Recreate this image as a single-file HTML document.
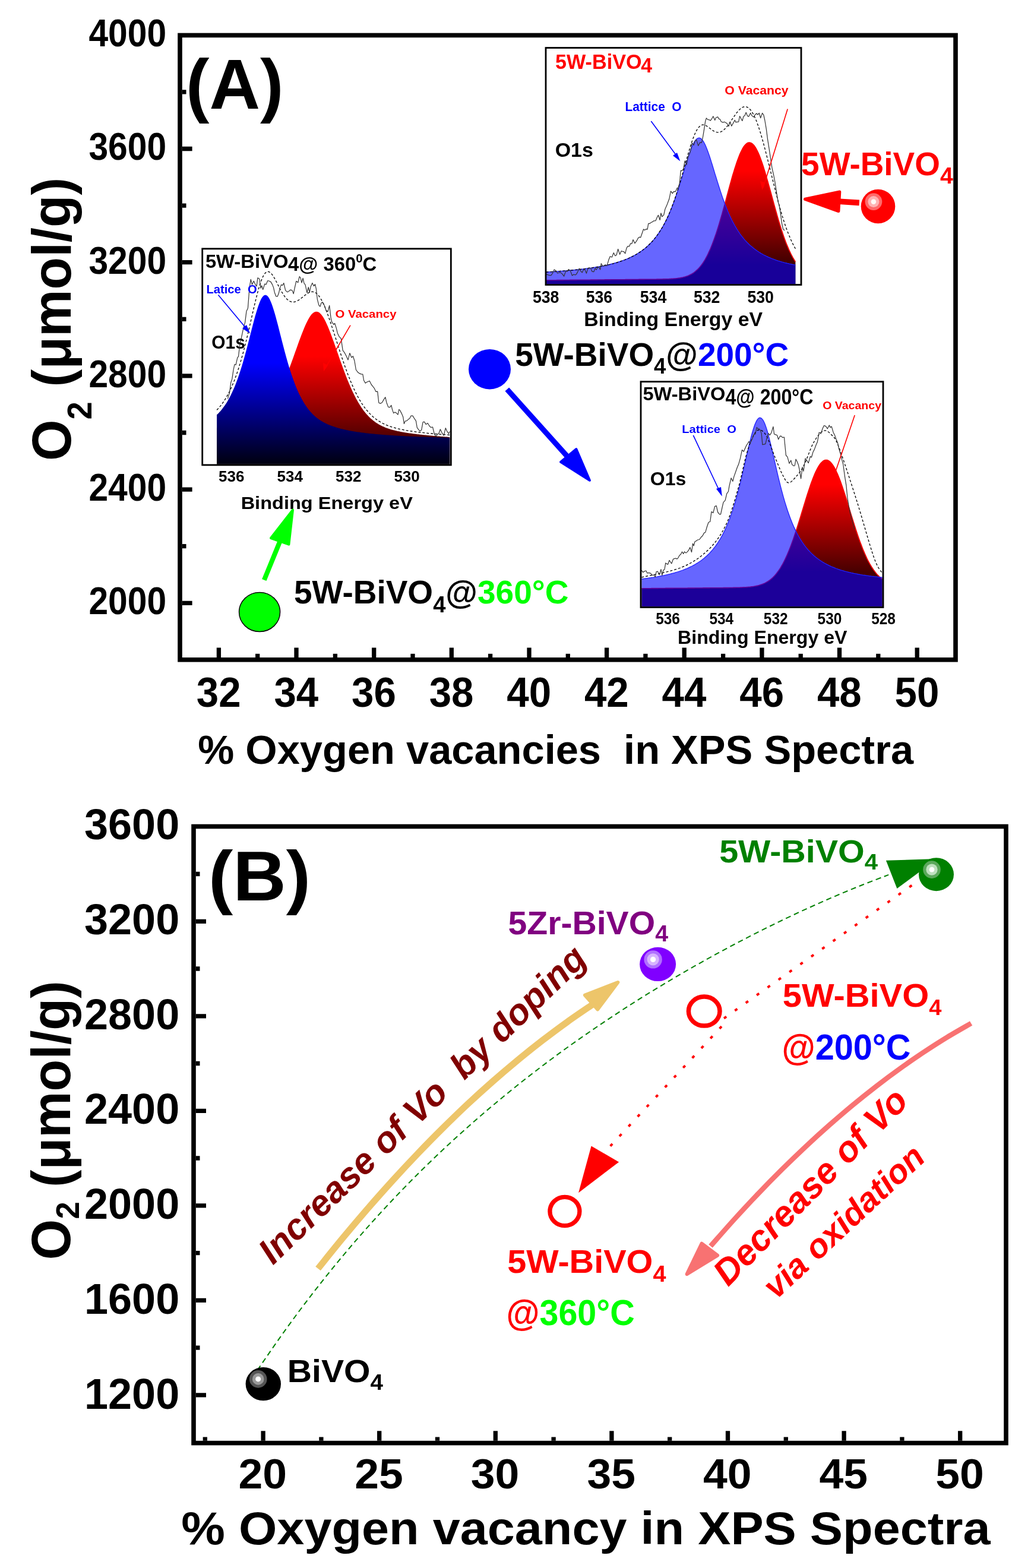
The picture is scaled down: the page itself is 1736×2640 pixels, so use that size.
<!DOCTYPE html>
<html><head><meta charset="utf-8"><title>O2 evolution vs oxygen vacancies (XPS)</title>
<style>html,body{margin:0;padding:0;background:#fff;}svg{display:block;}</style></head>
<body><svg width="1736" height="2640" viewBox="0 0 1736 2640">
<rect width="1736" height="2640" fill="#fff"/>
<defs>
<linearGradient id="g1b" gradientUnits="userSpaceOnUse" x1="0" y1="611" x2="0" y2="792"><stop offset="0" stop-color="#0000ff"/><stop offset="1" stop-color="#000000"/></linearGradient>
<linearGradient id="g1r" gradientUnits="userSpaceOnUse" x1="0" y1="600" x2="0" y2="800"><stop offset="0" stop-color="#ff0000"/><stop offset="1" stop-color="#000000"/></linearGradient>
<linearGradient id="g2r" gradientUnits="userSpaceOnUse" x1="0" y1="288" x2="0" y2="447"><stop offset="0" stop-color="#ff0000"/><stop offset="1" stop-color="#3c0000"/></linearGradient>
<linearGradient id="g3r" gradientUnits="userSpaceOnUse" x1="0" y1="816" x2="0" y2="964"><stop offset="0" stop-color="#ff0000"/><stop offset="1" stop-color="#460000"/></linearGradient>
</defs>
<text transform="translate(356.28,587.19) scale(1.0308,1.0903)" font-size="29.00" fill="#000" text-anchor="start" font-family="Liberation Sans, Arial, Helvetica, sans-serif" font-weight="bold" >O1s</text>
<path d="M365.1,781.5 L365.1,720.6 L366.6,720.5 L368.1,720.4 L369.6,720.3 L371.1,720.2 L372.6,720.1 L374.1,720.0 L375.6,719.8 L377.1,719.7 L378.6,719.6 L380.1,719.4 L381.6,719.3 L383.1,719.2 L384.6,719.0 L386.1,718.8 L387.6,718.7 L389.1,718.5 L390.6,718.3 L392.1,718.1 L393.7,717.9 L395.2,717.7 L396.7,717.4 L398.2,717.2 L399.7,716.9 L401.2,716.7 L402.7,716.4 L404.2,716.1 L405.7,715.8 L407.2,715.4 L408.7,715.1 L410.2,714.7 L411.7,714.3 L413.2,713.9 L414.7,713.4 L416.2,712.9 L417.7,712.4 L419.2,711.9 L420.7,711.3 L422.2,710.7 L423.7,710.1 L425.2,709.4 L426.7,708.7 L428.2,707.9 L429.7,707.1 L431.2,706.3 L432.7,705.4 L434.2,704.4 L435.7,703.4 L437.2,702.3 L438.7,701.2 L440.2,700.0 L441.7,698.8 L443.2,697.4 L444.7,696.0 L446.2,694.6 L447.7,693.0 L449.3,691.4 L450.8,689.7 L452.3,687.9 L453.8,686.0 L455.3,684.1 L456.8,682.0 L458.3,679.9 L459.8,677.6 L461.3,675.3 L462.8,672.9 L464.3,670.3 L465.8,667.7 L467.3,665.0 L468.8,662.2 L470.3,659.2 L471.8,656.2 L473.3,653.1 L474.8,649.9 L476.3,646.6 L477.8,643.1 L479.3,639.6 L480.8,636.1 L482.3,632.4 L483.8,628.6 L485.3,624.8 L486.8,620.9 L488.3,616.9 L489.8,612.9 L491.3,608.8 L492.8,604.7 L494.3,600.5 L495.8,596.3 L497.3,592.1 L498.8,587.9 L500.3,583.7 L501.8,579.5 L503.3,575.3 L504.8,571.2 L506.4,567.1 L507.9,563.1 L509.4,559.2 L510.9,555.5 L512.4,551.8 L513.9,548.3 L515.4,545.0 L516.9,541.9 L518.4,538.9 L519.9,536.2 L521.4,533.8 L522.9,531.6 L524.4,529.6 L525.9,528.0 L527.4,526.7 L528.9,525.7 L530.4,525.0 L531.9,524.7 L533.4,524.7 L534.9,525.0 L536.4,525.6 L537.9,526.6 L539.4,527.9 L540.9,529.5 L542.4,531.4 L543.9,533.6 L545.4,536.1 L546.9,538.8 L548.4,541.8 L549.9,544.9 L551.4,548.3 L552.9,551.8 L554.4,555.5 L555.9,559.3 L557.4,563.3 L558.9,567.3 L560.4,571.4 L562.0,575.6 L563.5,579.9 L565.0,584.2 L566.5,588.5 L568.0,592.8 L569.5,597.1 L571.0,601.4 L572.5,605.7 L574.0,609.9 L575.5,614.1 L577.0,618.2 L578.5,622.3 L580.0,626.3 L581.5,630.3 L583.0,634.2 L584.5,638.0 L586.0,641.7 L587.5,645.3 L589.0,648.8 L590.5,652.3 L592.0,655.6 L593.5,658.9 L595.0,662.0 L596.5,665.1 L598.0,668.0 L599.5,670.9 L601.0,673.6 L602.5,676.3 L604.0,678.8 L605.5,681.3 L607.0,683.6 L608.5,685.9 L610.0,688.1 L611.5,690.2 L613.0,692.2 L614.5,694.1 L616.0,695.9 L617.6,697.7 L619.1,699.3 L620.6,700.9 L622.1,702.4 L623.6,703.9 L625.1,705.2 L626.6,706.5 L628.1,707.8 L629.6,709.0 L631.1,710.1 L632.6,711.2 L634.1,712.2 L635.6,713.1 L637.1,714.0 L638.6,714.9 L640.1,715.7 L641.6,716.5 L643.1,717.3 L644.6,718.0 L646.1,718.6 L647.6,719.3 L649.1,719.9 L650.6,720.5 L652.1,721.0 L653.6,721.6 L655.1,722.1 L656.6,722.5 L658.1,723.0 L659.6,723.4 L661.1,723.8 L662.6,724.2 L664.1,724.6 L665.6,725.0 L667.1,725.3 L668.6,725.7 L670.1,726.0 L671.6,726.3 L673.1,726.6 L674.7,726.9 L676.2,727.2 L677.7,727.5 L679.2,727.8 L680.7,728.0 L682.2,728.3 L683.7,728.5 L685.2,728.7 L686.7,729.0 L688.2,729.2 L689.7,729.4 L691.2,729.6 L692.7,729.8 L694.2,730.0 L695.7,730.2 L697.2,730.4 L698.7,730.6 L700.2,730.8 L701.7,731.0 L703.2,731.2 L704.7,731.3 L706.2,731.5 L707.7,731.7 L709.2,731.8 L710.7,732.0 L712.2,732.2 L713.7,732.3 L715.2,732.5 L716.7,732.6 L718.2,732.8 L719.7,732.9 L721.2,733.0 L722.7,733.2 L724.2,733.3 L725.7,733.5 L727.2,733.6 L728.7,733.7 L730.3,733.9 L731.8,734.0 L733.3,734.1 L734.8,734.3 L736.3,734.4 L737.8,734.5 L739.3,734.6 L740.8,734.7 L742.3,734.9 L743.8,735.0 L745.3,735.1 L746.8,735.2 L748.3,735.3 L749.8,735.4 L751.3,735.5 L752.8,735.6 L754.3,735.8 L755.8,735.9 L757.3,736.0 L757.3,781.5 Z" fill="url(#g1r)" />
<path d="M365.1,781.5 L365.1,698.3 L366.6,696.9 L368.1,695.4 L369.6,693.8 L371.1,692.2 L372.6,690.4 L374.1,688.6 L375.6,686.6 L377.1,684.6 L378.6,682.5 L380.1,680.2 L381.6,677.9 L383.1,675.4 L384.6,672.8 L386.1,670.0 L387.6,667.2 L389.1,664.2 L390.6,661.0 L392.1,657.7 L393.7,654.3 L395.2,650.7 L396.7,646.9 L398.2,643.0 L399.7,639.0 L401.2,634.7 L402.7,630.3 L404.2,625.8 L405.7,621.1 L407.2,616.2 L408.7,611.2 L410.2,606.0 L411.7,600.7 L413.2,595.3 L414.7,589.7 L416.2,584.1 L417.7,578.3 L419.2,572.5 L420.7,566.6 L422.2,560.7 L423.7,554.8 L425.2,549.0 L426.7,543.2 L428.2,537.6 L429.7,532.1 L431.2,526.9 L432.7,521.9 L434.2,517.2 L435.7,512.9 L437.2,508.9 L438.7,505.5 L440.2,502.6 L441.7,500.2 L443.2,498.4 L444.7,497.2 L446.2,496.7 L447.7,496.8 L449.3,497.5 L450.8,498.8 L452.3,500.8 L453.8,503.3 L455.3,506.4 L456.8,510.0 L458.3,514.0 L459.8,518.4 L461.3,523.2 L462.8,528.3 L464.3,533.6 L465.8,539.2 L467.3,544.8 L468.8,550.6 L470.3,556.5 L471.8,562.4 L473.3,568.3 L474.8,574.2 L476.3,580.0 L477.8,585.8 L479.3,591.5 L480.8,597.0 L482.3,602.4 L483.8,607.7 L485.3,612.9 L486.8,617.9 L488.3,622.7 L489.8,627.4 L491.3,631.9 L492.8,636.3 L494.3,640.5 L495.8,644.5 L497.3,648.4 L498.8,652.2 L500.3,655.7 L501.8,659.2 L503.3,662.4 L504.8,665.6 L506.4,668.6 L507.9,671.4 L509.4,674.1 L510.9,676.7 L512.4,679.2 L513.9,681.6 L515.4,683.8 L516.9,685.9 L518.4,688.0 L519.9,689.9 L521.4,691.7 L522.9,693.5 L524.4,695.1 L525.9,696.7 L527.4,698.2 L528.9,699.6 L530.4,700.9 L531.9,702.2 L533.4,703.4 L534.9,704.6 L536.4,705.7 L537.9,706.7 L539.4,707.7 L540.9,708.7 L542.4,709.6 L543.9,710.5 L545.4,711.3 L546.9,712.1 L548.4,712.8 L549.9,713.6 L551.4,714.2 L552.9,714.9 L554.4,715.5 L555.9,716.1 L557.4,716.7 L558.9,717.3 L560.4,717.8 L562.0,718.3 L563.5,718.8 L565.0,719.3 L566.5,719.8 L568.0,720.2 L569.5,720.7 L571.0,721.1 L572.5,721.5 L574.0,721.9 L575.5,722.3 L577.0,722.6 L578.5,723.0 L580.0,723.3 L581.5,723.6 L583.0,724.0 L584.5,724.3 L586.0,724.6 L587.5,724.9 L589.0,725.2 L590.5,725.4 L592.0,725.7 L593.5,726.0 L595.0,726.2 L596.5,726.5 L598.0,726.7 L599.5,727.0 L601.0,727.2 L602.5,727.4 L604.0,727.6 L605.5,727.8 L607.0,728.1 L608.5,728.3 L610.0,728.5 L611.5,728.6 L613.0,728.8 L614.5,729.0 L616.0,729.2 L617.6,729.4 L619.1,729.5 L620.6,729.7 L622.1,729.9 L623.6,730.0 L625.1,730.2 L626.6,730.3 L628.1,730.5 L629.6,730.6 L631.1,730.8 L632.6,730.9 L634.1,731.1 L635.6,731.2 L637.1,731.3 L638.6,731.5 L640.1,731.6 L641.6,731.7 L643.1,731.8 L644.6,731.9 L646.1,732.1 L647.6,732.2 L649.1,732.3 L650.6,732.4 L652.1,732.5 L653.6,732.6 L655.1,732.7 L656.6,732.8 L658.1,732.9 L659.6,733.0 L661.1,733.1 L662.6,733.2 L664.1,733.3 L665.6,733.4 L667.1,733.5 L668.6,733.6 L670.1,733.7 L671.6,733.7 L673.1,733.8 L674.7,733.9 L676.2,734.0 L677.7,734.1 L679.2,734.1 L680.7,734.2 L682.2,734.3 L683.7,734.4 L685.2,734.4 L686.7,734.5 L688.2,734.6 L689.7,734.7 L691.2,734.7 L692.7,734.8 L694.2,734.9 L695.7,734.9 L697.2,735.0 L698.7,735.0 L700.2,735.1 L701.7,735.2 L703.2,735.2 L704.7,735.3 L706.2,735.4 L707.7,735.4 L709.2,735.5 L710.7,735.5 L712.2,735.6 L713.7,735.6 L715.2,735.7 L716.7,735.7 L718.2,735.8 L719.7,735.8 L721.2,735.9 L722.7,735.9 L724.2,736.0 L725.7,736.0 L727.2,736.1 L728.7,736.1 L730.3,736.2 L731.8,736.2 L733.3,736.3 L734.8,736.3 L736.3,736.4 L737.8,736.4 L739.3,736.5 L740.8,736.5 L742.3,736.6 L743.8,736.6 L745.3,736.6 L746.8,736.7 L748.3,736.7 L749.8,736.8 L751.3,736.8 L752.8,736.8 L754.3,736.9 L755.8,736.9 L757.3,737.0 L757.3,781.5 Z" fill="url(#g1b)" />
<path d="M365.1,690.3 L366.6,688.8 L368.1,687.1 L369.6,685.4 L371.1,683.6 L372.6,681.7 L374.1,679.7 L375.6,677.6 L377.1,675.4 L378.6,673.1 L380.1,670.7 L381.6,668.1 L383.1,665.4 L384.6,662.6 L386.1,659.7 L387.6,656.6 L389.1,653.4 L390.6,650.0 L392.1,646.4 L393.7,642.8 L395.2,638.9 L396.7,634.9 L398.2,630.7 L399.7,626.3 L401.2,621.8 L402.7,617.0 L404.2,612.1 L405.7,607.1 L407.2,601.8 L408.7,596.4 L410.2,590.8 L411.7,585.0 L413.2,579.1 L414.7,573.1 L416.2,566.9 L417.7,560.6 L419.2,554.2 L420.7,547.7 L422.2,541.2 L423.7,534.6 L425.2,528.0 L426.7,521.5 L428.2,515.0 L429.7,508.7 L431.2,502.6 L432.7,496.6 L434.2,490.9 L435.7,485.5 L437.2,480.5 L438.7,475.9 L440.2,471.7 L441.7,468.1 L443.2,464.9 L444.7,462.3 L446.2,460.2 L447.7,458.7 L449.3,457.7 L450.8,457.3 L452.3,457.5 L453.8,458.1 L455.3,459.1 L456.8,460.6 L458.3,462.4 L459.8,464.6 L461.3,467.0 L462.8,469.6 L464.3,472.4 L465.8,475.2 L467.3,478.2 L468.8,481.1 L470.3,484.0 L471.8,486.8 L473.3,489.6 L474.8,492.2 L476.3,494.6 L477.8,496.9 L479.3,499.1 L480.8,501.0 L482.3,502.7 L483.8,504.2 L485.3,505.4 L486.8,506.5 L488.3,507.3 L489.8,507.9 L491.3,508.3 L492.8,508.5 L494.3,508.5 L495.8,508.3 L497.3,507.9 L498.8,507.4 L500.3,506.7 L501.8,505.9 L503.3,505.0 L504.8,503.9 L506.4,502.8 L507.9,501.6 L509.4,500.4 L510.9,499.2 L512.4,498.0 L513.9,496.8 L515.4,495.7 L516.9,494.6 L518.4,493.6 L519.9,492.8 L521.4,492.1 L522.9,491.6 L524.4,491.3 L525.9,491.2 L527.4,491.3 L528.9,491.7 L530.4,492.3 L531.9,493.2 L533.4,494.4 L534.9,495.8 L536.4,497.5 L537.9,499.5 L539.4,501.8 L540.9,504.3 L542.4,507.1 L543.9,510.1 L545.4,513.3 L546.9,516.8 L548.4,520.4 L549.9,524.3 L551.4,528.3 L552.9,532.4 L554.4,536.7 L555.9,541.1 L557.4,545.6 L558.9,550.1 L560.4,554.7 L562.0,559.4 L563.5,564.1 L565.0,568.8 L566.5,573.5 L568.0,578.2 L569.5,582.9 L571.0,587.6 L572.5,592.2 L574.0,596.8 L575.5,601.3 L577.0,605.8 L578.5,610.2 L580.0,614.5 L581.5,618.7 L583.0,622.9 L584.5,627.0 L586.0,630.9 L587.5,634.8 L589.0,638.6 L590.5,642.2 L592.0,645.8 L593.5,649.3 L595.0,652.6 L596.5,655.9 L598.0,659.0 L599.5,662.1 L601.0,665.0 L602.5,667.9 L604.0,670.6 L605.5,673.2 L607.0,675.7 L608.5,678.2 L610.0,680.5 L611.5,682.7 L613.0,684.9 L614.5,686.9 L616.0,688.9 L617.6,690.7 L619.1,692.5 L620.6,694.2 L622.1,695.9 L623.6,697.4 L625.1,698.9 L626.6,700.3 L628.1,701.7 L629.6,703.0 L631.1,704.2 L632.6,705.3 L634.1,706.4 L635.6,707.5 L637.1,708.5 L638.6,709.4 L640.1,710.3 L641.6,711.2 L643.1,712.0 L644.6,712.8 L646.1,713.5 L647.6,714.3 L649.1,714.9 L650.6,715.6 L652.1,716.2 L653.6,716.8 L655.1,717.3 L656.6,717.9 L658.1,718.4 L659.6,718.9 L661.1,719.3 L662.6,719.8 L664.1,720.2 L665.6,720.6 L667.1,721.0 L668.6,721.4 L670.1,721.8 L671.6,722.1 L673.1,722.5 L674.7,722.8 L676.2,723.1 L677.7,723.4 L679.2,723.7 L680.7,724.0 L682.2,724.3 L683.7,724.6 L685.2,724.8 L686.7,725.1 L688.2,725.3 L689.7,725.6 L691.2,725.8 L692.7,726.0 L694.2,726.2 L695.7,726.5 L697.2,726.7 L698.7,726.9 L700.2,727.1 L701.7,727.3 L703.2,727.5 L704.7,727.7 L706.2,727.8 L707.7,728.0 L709.2,728.2 L710.7,728.4 L712.2,728.5 L713.7,728.7 L715.2,728.9 L716.7,729.0 L718.2,729.2 L719.7,729.3 L721.2,729.5 L722.7,729.6 L724.2,729.8 L725.7,729.9 L727.2,730.0 L728.7,730.2 L730.3,730.3 L731.8,730.4 L733.3,730.6 L734.8,730.7 L736.3,730.8 L737.8,730.9 L739.3,731.1 L740.8,731.2 L742.3,731.3 L743.8,731.4 L745.3,731.5 L746.8,731.6 L748.3,731.7 L749.8,731.8 L751.3,732.0 L752.8,732.1 L754.3,732.2 L755.8,732.3 L757.3,732.4" fill="none" stroke="#000" stroke-width="1.3" stroke-dasharray="4,3"/>
<path d="M383.4,671.4 L386.4,661.6 L388.8,643.8 L390.7,638.4 L393.1,622.5 L395.0,613.5 L397.1,614.3 L399.8,602.4 L401.5,600.1 L404.1,578.2 L406.7,567.4 L409.1,556.1 L410.9,548.8 L412.6,542.9 L415.0,523.9 L417.4,518.9 L420.0,485.0 L422.3,470.4 L424.4,479.1 L427.3,473.2 L430.0,479.1 L432.1,481.9 L433.9,467.8 L436.8,469.5 L439.0,485.2 L440.7,480.8 L442.7,487.6 L445.8,478.0 L448.0,478.9 L450.8,472.5 L452.9,473.0 L456.0,474.6 L458.7,479.4 L460.6,484.4 L462.3,492.2 L464.8,499.0 L467.1,499.2 L469.0,494.8 L471.6,484.4 L473.6,479.4 L475.7,480.5 L477.8,476.6 L480.7,488.9 L483.6,491.6 L486.2,490.7 L488.2,488.4 L490.3,488.2 L492.4,489.6 L494.2,494.6 L496.2,484.8 L498.8,473.3 L501.8,475.7 L504.2,465.6 L506.1,467.9 L508.0,476.2 L510.1,468.4 L512.0,476.8 L514.0,479.4 L517.0,492.8 L519.3,483.5 L521.2,492.2 L523.2,482.6 L525.9,476.4 L528.4,481.6 L530.5,478.6 L532.3,485.8 L534.3,503.8 L536.9,513.8 L539.0,516.1 L540.7,510.7 L542.7,508.6 L544.7,511.3 L546.9,516.0 L549.1,522.7 L552.0,524.5 L554.7,514.4 L557.2,536.0 L558.9,542.4 L561.9,546.4 L563.6,544.3 L566.2,552.1 L568.4,561.2 L571.5,567.4 L574.2,569.7 L577.2,589.8 L580.0,593.6 L583.0,599.3 L586.0,605.9 L588.9,594.6 L591.9,602.0 L594.4,599.7 L596.9,607.5 L599.4,622.5 L602.6,626.8 L605.5,628.9 L608.2,629.9 L610.8,630.2 L612.6,640.5 L615.3,645.1 L617.7,643.3 L619.7,642.5 L622.3,641.4 L625.3,647.5 L627.4,650.1 L630.0,653.3 L633.0,659.4 L635.7,659.1 L637.8,678.0 L640.4,679.5 L643.3,677.8 L646.3,672.6 L648.8,668.7 L650.9,677.7 L653.8,685.4 L656.7,685.6 L658.8,682.3 L660.7,690.1 L662.7,695.6 L665.0,694.0 L667.1,695.1 L670.0,698.1 L671.8,689.4 L673.5,690.9 L676.2,696.1 L678.7,701.9 L680.4,713.5 L682.3,709.0 L685.2,708.3 L687.2,706.3 L689.8,704.5 L692.1,700.0 L695.0,700.1 L698.0,705.2 L700.4,708.6 L702.3,719.9 L705.0,723.7 L707.0,725.8 L709.7,723.9 L712.1,710.8 L714.3,710.1 L717.2,714.4 L720.2,712.5 L722.9,717.0 L725.5,719.7 L728.5,719.0 L731.4,730.8 L734.2,734.9 L736.9,730.7 L738.8,730.0 L741.4,722.8 L744.1,728.6 L747.2,733.2 L750.3,720.7 L752.5,725.8 L755.5,730.2 L757.3,726.4" fill="none" stroke="#333" stroke-width="1.2" stroke-linejoin="round"/>
<rect x="340.7" y="418.8" width="418.6" height="364.1" fill="none" stroke="#000" stroke-width="2.8"/>
<text transform="translate(345.90,451.30) scale(1.0922,1.0424)" font-size="30.00" fill="#000" text-anchor="start" font-family="Liberation Sans, Arial, Helvetica, sans-serif" font-weight="bold" >5W-BiVO</text>
<text transform="translate(484.90,455.89) scale(1.0964,1.0772)" font-size="30.00" fill="#000" text-anchor="start" font-family="Liberation Sans, Arial, Helvetica, sans-serif" font-weight="bold" >4@ 360<tspan style="font-size:0.62em" dy="-12.7">0</tspan><tspan dy="12.7">C</tspan></text>
<text transform="translate(347.51,494.19) scale(1.0899,1.0494)" font-size="18.50" fill="#0000ff" text-anchor="start" font-family="Liberation Sans, Arial, Helvetica, sans-serif" font-weight="bold" >Latice&#160; O</text>
<text transform="translate(564.52,534.51) scale(1.0720,1.0125)" font-size="19.00" fill="#ff0000" text-anchor="start" font-family="Liberation Sans, Arial, Helvetica, sans-serif" font-weight="bold" >O Vacancy</text>
<line x1="367.4" y1="496.4" x2="418" y2="557" stroke="#0000ff" stroke-width="1.6"/>
<polygon points="421.4,561.7 408,553 415,547" fill="#0000ff"/>
<line x1="590" y1="547.6" x2="547" y2="621" stroke="#ff0000" stroke-width="1.6"/>
<polygon points="545.1,624.9 544,611 552,615" fill="#ff0000"/>
<text transform="translate(389.77,810.56) scale(1.0838,1.0816)" font-size="24.00" fill="#000" text-anchor="middle" font-family="Liberation Sans, Arial, Helvetica, sans-serif" font-weight="bold" >536</text>
<text transform="translate(488.27,810.56) scale(1.0838,1.0816)" font-size="24.00" fill="#000" text-anchor="middle" font-family="Liberation Sans, Arial, Helvetica, sans-serif" font-weight="bold" >534</text>
<text transform="translate(586.67,810.56) scale(1.0838,1.0816)" font-size="24.00" fill="#000" text-anchor="middle" font-family="Liberation Sans, Arial, Helvetica, sans-serif" font-weight="bold" >532</text>
<text transform="translate(685.07,810.56) scale(1.0838,1.0816)" font-size="24.00" fill="#000" text-anchor="middle" font-family="Liberation Sans, Arial, Helvetica, sans-serif" font-weight="bold" >530</text>
<text transform="translate(405.63,856.61) scale(1.0849,0.9889)" font-size="30.00" fill="#000" text-anchor="start" font-family="Liberation Sans, Arial, Helvetica, sans-serif" font-weight="bold" >Binding Energy eV</text>
<path d="M919.5,478.5 L919.5,471.8 L921.0,471.8 L922.5,471.8 L924.0,471.8 L925.5,471.7 L927.0,471.7 L928.5,471.7 L930.0,471.7 L931.5,471.7 L933.0,471.7 L934.6,471.7 L936.1,471.7 L937.6,471.6 L939.1,471.6 L940.6,471.6 L942.1,471.6 L943.6,471.6 L945.1,471.6 L946.6,471.6 L948.1,471.6 L949.6,471.5 L951.1,471.5 L952.6,471.5 L954.1,471.5 L955.6,471.5 L957.1,471.5 L958.6,471.5 L960.1,471.4 L961.6,471.4 L963.1,471.4 L964.7,471.4 L966.2,471.4 L967.7,471.4 L969.2,471.4 L970.7,471.4 L972.2,471.3 L973.7,471.3 L975.2,471.3 L976.7,471.3 L978.2,471.3 L979.7,471.3 L981.2,471.3 L982.7,471.3 L984.2,471.2 L985.7,471.2 L987.2,471.2 L988.7,471.2 L990.2,471.2 L991.7,471.2 L993.2,471.2 L994.8,471.1 L996.3,471.1 L997.8,471.1 L999.3,471.1 L1000.8,471.1 L1002.3,471.1 L1003.8,471.1 L1005.3,471.1 L1006.8,471.0 L1008.3,471.0 L1009.8,471.0 L1011.3,471.0 L1012.8,471.0 L1014.3,471.0 L1015.8,471.0 L1017.3,471.0 L1018.8,470.9 L1020.3,470.9 L1021.8,470.9 L1023.3,470.9 L1024.9,470.9 L1026.4,470.9 L1027.9,470.9 L1029.4,470.8 L1030.9,470.8 L1032.4,470.8 L1033.9,470.8 L1035.4,470.8 L1036.9,470.8 L1038.4,470.8 L1039.9,470.8 L1041.4,470.7 L1042.9,470.7 L1044.4,470.7 L1045.9,470.7 L1047.4,470.7 L1048.9,470.7 L1050.4,470.7 L1051.9,470.7 L1053.4,470.6 L1055.0,470.6 L1056.5,470.6 L1058.0,470.6 L1059.5,470.6 L1061.0,470.6 L1062.5,470.6 L1064.0,470.5 L1065.5,470.5 L1067.0,470.5 L1068.5,470.5 L1070.0,470.5 L1071.5,470.5 L1073.0,470.5 L1074.5,470.5 L1076.0,470.4 L1077.5,470.4 L1079.0,470.4 L1080.5,470.4 L1082.0,470.4 L1083.5,470.4 L1085.1,470.4 L1086.6,470.3 L1088.1,470.3 L1089.6,470.3 L1091.1,470.3 L1092.6,470.3 L1094.1,470.3 L1095.6,470.3 L1097.1,470.2 L1098.6,470.2 L1100.1,470.2 L1101.6,470.2 L1103.1,470.2 L1104.6,470.2 L1106.1,470.1 L1107.6,470.1 L1109.1,470.1 L1110.6,470.1 L1112.1,470.0 L1113.6,470.0 L1115.2,470.0 L1116.7,469.9 L1118.2,469.9 L1119.7,469.9 L1121.2,469.8 L1122.7,469.8 L1124.2,469.7 L1125.7,469.7 L1127.2,469.6 L1128.7,469.5 L1130.2,469.4 L1131.7,469.4 L1133.2,469.3 L1134.7,469.1 L1136.2,469.0 L1137.7,468.9 L1139.2,468.7 L1140.7,468.5 L1142.2,468.3 L1143.7,468.1 L1145.3,467.9 L1146.8,467.6 L1148.3,467.3 L1149.8,467.0 L1151.3,466.6 L1152.8,466.2 L1154.3,465.8 L1155.8,465.3 L1157.3,464.8 L1158.8,464.2 L1160.3,463.5 L1161.8,462.8 L1163.3,462.0 L1164.8,461.2 L1166.3,460.3 L1167.8,459.3 L1169.3,458.2 L1170.8,457.0 L1172.3,455.7 L1173.8,454.4 L1175.4,452.9 L1176.9,451.3 L1178.4,449.6 L1179.9,447.8 L1181.4,445.8 L1182.9,443.7 L1184.4,441.5 L1185.9,439.1 L1187.4,436.6 L1188.9,433.9 L1190.4,431.1 L1191.9,428.1 L1193.4,424.9 L1194.9,421.6 L1196.4,418.2 L1197.9,414.5 L1199.4,410.7 L1200.9,406.8 L1202.4,402.7 L1203.9,398.4 L1205.5,394.0 L1207.0,389.4 L1208.5,384.7 L1210.0,379.9 L1211.5,374.9 L1213.0,369.8 L1214.5,364.6 L1216.0,359.4 L1217.5,354.0 L1219.0,348.6 L1220.5,343.1 L1222.0,337.6 L1223.5,332.0 L1225.0,326.5 L1226.5,320.9 L1228.0,315.4 L1229.5,310.0 L1231.0,304.6 L1232.5,299.3 L1234.0,294.1 L1235.6,289.0 L1237.1,284.1 L1238.6,279.4 L1240.1,274.8 L1241.6,270.5 L1243.1,266.4 L1244.6,262.5 L1246.1,258.9 L1247.6,255.5 L1249.1,252.5 L1250.6,249.7 L1252.1,247.3 L1253.6,245.2 L1255.1,243.5 L1256.6,242.0 L1258.1,241.0 L1259.6,240.3 L1261.1,240.0 L1262.6,240.0 L1264.1,240.4 L1265.7,241.1 L1267.2,242.3 L1268.7,243.7 L1270.2,245.5 L1271.7,247.7 L1273.2,250.2 L1274.7,253.0 L1276.2,256.1 L1277.7,259.4 L1279.2,263.1 L1280.7,267.0 L1282.2,271.2 L1283.7,275.5 L1285.2,280.1 L1286.7,284.9 L1288.2,289.8 L1289.7,294.9 L1291.2,300.1 L1292.7,305.3 L1294.2,310.7 L1295.8,316.2 L1297.3,321.7 L1298.8,327.2 L1300.3,332.7 L1301.8,338.2 L1303.3,343.7 L1304.8,349.1 L1306.3,354.5 L1307.8,359.8 L1309.3,365.1 L1310.8,370.2 L1312.3,375.2 L1313.8,380.1 L1315.3,384.9 L1316.8,389.6 L1318.3,394.1 L1319.8,398.4 L1321.3,402.6 L1322.8,406.7 L1324.3,410.6 L1325.9,414.3 L1327.4,417.9 L1328.9,421.3 L1330.4,424.5 L1331.9,427.6 L1333.4,430.5 L1334.9,433.3 L1336.4,435.9 L1337.9,438.4 L1339.4,440.7 L1339.4,478.5 Z" fill="url(#g2r)" />
<path d="M919.5,471.8 L921.0,471.8 L922.5,471.8 L924.0,471.8 L925.5,471.7 L927.0,471.7 L928.5,471.7 L930.0,471.7 L931.5,471.7 L933.0,471.7 L934.6,471.7 L936.1,471.7 L937.6,471.6 L939.1,471.6 L940.6,471.6 L942.1,471.6 L943.6,471.6 L945.1,471.6 L946.6,471.6 L948.1,471.6 L949.6,471.5 L951.1,471.5 L952.6,471.5 L954.1,471.5 L955.6,471.5 L957.1,471.5 L958.6,471.5 L960.1,471.4 L961.6,471.4 L963.1,471.4 L964.7,471.4 L966.2,471.4 L967.7,471.4 L969.2,471.4 L970.7,471.4 L972.2,471.3 L973.7,471.3 L975.2,471.3 L976.7,471.3 L978.2,471.3 L979.7,471.3 L981.2,471.3 L982.7,471.3 L984.2,471.2 L985.7,471.2 L987.2,471.2 L988.7,471.2 L990.2,471.2 L991.7,471.2 L993.2,471.2 L994.8,471.1 L996.3,471.1 L997.8,471.1 L999.3,471.1 L1000.8,471.1 L1002.3,471.1 L1003.8,471.1 L1005.3,471.1 L1006.8,471.0 L1008.3,471.0 L1009.8,471.0 L1011.3,471.0 L1012.8,471.0 L1014.3,471.0 L1015.8,471.0 L1017.3,471.0 L1018.8,470.9 L1020.3,470.9 L1021.8,470.9 L1023.3,470.9 L1024.9,470.9 L1026.4,470.9 L1027.9,470.9 L1029.4,470.8 L1030.9,470.8 L1032.4,470.8 L1033.9,470.8 L1035.4,470.8 L1036.9,470.8 L1038.4,470.8 L1039.9,470.8 L1041.4,470.7 L1042.9,470.7 L1044.4,470.7 L1045.9,470.7 L1047.4,470.7 L1048.9,470.7 L1050.4,470.7 L1051.9,470.7 L1053.4,470.6 L1055.0,470.6 L1056.5,470.6 L1058.0,470.6 L1059.5,470.6 L1061.0,470.6 L1062.5,470.6 L1064.0,470.5 L1065.5,470.5 L1067.0,470.5 L1068.5,470.5 L1070.0,470.5 L1071.5,470.5 L1073.0,470.5 L1074.5,470.5 L1076.0,470.4 L1077.5,470.4 L1079.0,470.4 L1080.5,470.4 L1082.0,470.4 L1083.5,470.4 L1085.1,470.4 L1086.6,470.3 L1088.1,470.3 L1089.6,470.3 L1091.1,470.3 L1092.6,470.3 L1094.1,470.3 L1095.6,470.3 L1097.1,470.2 L1098.6,470.2 L1100.1,470.2 L1101.6,470.2 L1103.1,470.2 L1104.6,470.2 L1106.1,470.1 L1107.6,470.1 L1109.1,470.1 L1110.6,470.1 L1112.1,470.0 L1113.6,470.0 L1115.2,470.0 L1116.7,469.9 L1118.2,469.9 L1119.7,469.9 L1121.2,469.8 L1122.7,469.8 L1124.2,469.7 L1125.7,469.7 L1127.2,469.6 L1128.7,469.5 L1130.2,469.4 L1131.7,469.4 L1133.2,469.3 L1134.7,469.1 L1136.2,469.0 L1137.7,468.9 L1139.2,468.7 L1140.7,468.5 L1142.2,468.3 L1143.7,468.1 L1145.3,467.9 L1146.8,467.6 L1148.3,467.3 L1149.8,467.0 L1151.3,466.6 L1152.8,466.2 L1154.3,465.8 L1155.8,465.3 L1157.3,464.8 L1158.8,464.2 L1160.3,463.5 L1161.8,462.8 L1163.3,462.0 L1164.8,461.2 L1166.3,460.3 L1167.8,459.3 L1169.3,458.2 L1170.8,457.0 L1172.3,455.7 L1173.8,454.4 L1175.4,452.9 L1176.9,451.3 L1178.4,449.6 L1179.9,447.8 L1181.4,445.8 L1182.9,443.7 L1184.4,441.5 L1185.9,439.1 L1187.4,436.6 L1188.9,433.9 L1190.4,431.1 L1191.9,428.1 L1193.4,424.9 L1194.9,421.6 L1196.4,418.2 L1197.9,414.5 L1199.4,410.7 L1200.9,406.8 L1202.4,402.7 L1203.9,398.4 L1205.5,394.0 L1207.0,389.4 L1208.5,384.7 L1210.0,379.9 L1211.5,374.9 L1213.0,369.8 L1214.5,364.6 L1216.0,359.4 L1217.5,354.0 L1219.0,348.6 L1220.5,343.1 L1222.0,337.6 L1223.5,332.0 L1225.0,326.5 L1226.5,320.9 L1228.0,315.4 L1229.5,310.0 L1231.0,304.6 L1232.5,299.3 L1234.0,294.1 L1235.6,289.0 L1237.1,284.1 L1238.6,279.4 L1240.1,274.8 L1241.6,270.5 L1243.1,266.4 L1244.6,262.5 L1246.1,258.9 L1247.6,255.5 L1249.1,252.5 L1250.6,249.7 L1252.1,247.3 L1253.6,245.2 L1255.1,243.5 L1256.6,242.0 L1258.1,241.0 L1259.6,240.3 L1261.1,240.0 L1262.6,240.0 L1264.1,240.4 L1265.7,241.1 L1267.2,242.3 L1268.7,243.7 L1270.2,245.5 L1271.7,247.7 L1273.2,250.2 L1274.7,253.0 L1276.2,256.1 L1277.7,259.4 L1279.2,263.1 L1280.7,267.0 L1282.2,271.2 L1283.7,275.5 L1285.2,280.1 L1286.7,284.9 L1288.2,289.8 L1289.7,294.9 L1291.2,300.1 L1292.7,305.3 L1294.2,310.7 L1295.8,316.2 L1297.3,321.7 L1298.8,327.2 L1300.3,332.7 L1301.8,338.2 L1303.3,343.7 L1304.8,349.1 L1306.3,354.5 L1307.8,359.8 L1309.3,365.1 L1310.8,370.2 L1312.3,375.2 L1313.8,380.1 L1315.3,384.9 L1316.8,389.6 L1318.3,394.1 L1319.8,398.4 L1321.3,402.6 L1322.8,406.7 L1324.3,410.6 L1325.9,414.3 L1327.4,417.9 L1328.9,421.3 L1330.4,424.5 L1331.9,427.6 L1333.4,430.5 L1334.9,433.3 L1336.4,435.9 L1337.9,438.4 L1339.4,440.7" fill="none" stroke="#ff0000" stroke-width="1.6"/>
<path d="M919.5,478.5 L919.5,458.1 L921.0,458.0 L922.5,457.9 L924.0,457.8 L925.5,457.7 L927.0,457.6 L928.5,457.6 L930.0,457.5 L931.5,457.4 L933.0,457.3 L934.6,457.2 L936.1,457.1 L937.6,457.0 L939.1,456.8 L940.6,456.7 L942.1,456.6 L943.6,456.5 L945.1,456.4 L946.6,456.3 L948.1,456.2 L949.6,456.1 L951.1,455.9 L952.6,455.8 L954.1,455.7 L955.6,455.6 L957.1,455.4 L958.6,455.3 L960.1,455.2 L961.6,455.0 L963.1,454.9 L964.7,454.7 L966.2,454.6 L967.7,454.4 L969.2,454.3 L970.7,454.1 L972.2,454.0 L973.7,453.8 L975.2,453.7 L976.7,453.5 L978.2,453.3 L979.7,453.1 L981.2,453.0 L982.7,452.8 L984.2,452.6 L985.7,452.4 L987.2,452.2 L988.7,452.0 L990.2,451.8 L991.7,451.6 L993.2,451.4 L994.8,451.2 L996.3,451.0 L997.8,450.7 L999.3,450.5 L1000.8,450.3 L1002.3,450.0 L1003.8,449.8 L1005.3,449.5 L1006.8,449.3 L1008.3,449.0 L1009.8,448.7 L1011.3,448.5 L1012.8,448.2 L1014.3,447.9 L1015.8,447.6 L1017.3,447.3 L1018.8,447.0 L1020.3,446.6 L1021.8,446.3 L1023.3,446.0 L1024.9,445.6 L1026.4,445.3 L1027.9,444.9 L1029.4,444.5 L1030.9,444.1 L1032.4,443.8 L1033.9,443.3 L1035.4,442.9 L1036.9,442.5 L1038.4,442.1 L1039.9,441.6 L1041.4,441.1 L1042.9,440.7 L1044.4,440.2 L1045.9,439.7 L1047.4,439.1 L1048.9,438.6 L1050.4,438.0 L1051.9,437.5 L1053.4,436.9 L1055.0,436.3 L1056.5,435.6 L1058.0,435.0 L1059.5,434.3 L1061.0,433.6 L1062.5,432.9 L1064.0,432.2 L1065.5,431.4 L1067.0,430.7 L1068.5,429.9 L1070.0,429.0 L1071.5,428.2 L1073.0,427.3 L1074.5,426.3 L1076.0,425.4 L1077.5,424.4 L1079.0,423.4 L1080.5,422.3 L1082.0,421.2 L1083.5,420.1 L1085.1,418.9 L1086.6,417.7 L1088.1,416.4 L1089.6,415.1 L1091.1,413.7 L1092.6,412.3 L1094.1,410.8 L1095.6,409.3 L1097.1,407.7 L1098.6,406.1 L1100.1,404.3 L1101.6,402.6 L1103.1,400.7 L1104.6,398.8 L1106.1,396.8 L1107.6,394.7 L1109.1,392.6 L1110.6,390.3 L1112.1,388.0 L1113.6,385.5 L1115.2,383.0 L1116.7,380.4 L1118.2,377.7 L1119.7,374.8 L1121.2,371.9 L1122.7,368.8 L1124.2,365.6 L1125.7,362.4 L1127.2,358.9 L1128.7,355.4 L1130.2,351.7 L1131.7,347.9 L1133.2,344.0 L1134.7,340.0 L1136.2,335.8 L1137.7,331.5 L1139.2,327.1 L1140.7,322.5 L1142.2,317.9 L1143.7,313.2 L1145.3,308.4 L1146.8,303.5 L1148.3,298.5 L1149.8,293.5 L1151.3,288.5 L1152.8,283.5 L1154.3,278.6 L1155.8,273.7 L1157.3,268.9 L1158.8,264.3 L1160.3,259.8 L1161.8,255.5 L1163.3,251.5 L1164.8,247.7 L1166.3,244.3 L1167.8,241.3 L1169.3,238.6 L1170.8,236.4 L1172.3,234.6 L1173.8,233.3 L1175.4,232.5 L1176.9,232.2 L1178.4,232.4 L1179.9,233.1 L1181.4,234.4 L1182.9,236.1 L1184.4,238.2 L1185.9,240.8 L1187.4,243.8 L1188.9,247.2 L1190.4,250.9 L1191.9,254.9 L1193.4,259.1 L1194.9,263.5 L1196.4,268.2 L1197.9,272.9 L1199.4,277.8 L1200.9,282.7 L1202.4,287.7 L1203.9,292.7 L1205.5,297.6 L1207.0,302.6 L1208.5,307.4 L1210.0,312.3 L1211.5,317.0 L1213.0,321.6 L1214.5,326.1 L1216.0,330.6 L1217.5,334.9 L1219.0,339.0 L1220.5,343.1 L1222.0,347.0 L1223.5,350.8 L1225.0,354.5 L1226.5,358.0 L1228.0,361.4 L1229.5,364.7 L1231.0,367.9 L1232.5,371.0 L1234.0,373.9 L1235.6,376.7 L1237.1,379.5 L1238.6,382.1 L1240.1,384.6 L1241.6,387.0 L1243.1,389.4 L1244.6,391.6 L1246.1,393.8 L1247.6,395.8 L1249.1,397.8 L1250.6,399.7 L1252.1,401.6 L1253.6,403.4 L1255.1,405.1 L1256.6,406.7 L1258.1,408.3 L1259.6,409.8 L1261.1,411.3 L1262.6,412.7 L1264.1,414.0 L1265.7,415.3 L1267.2,416.6 L1268.7,417.8 L1270.2,419.0 L1271.7,420.1 L1273.2,421.2 L1274.7,422.3 L1276.2,423.3 L1277.7,424.2 L1279.2,425.2 L1280.7,426.1 L1282.2,427.0 L1283.7,427.8 L1285.2,428.7 L1286.7,429.5 L1288.2,430.2 L1289.7,431.0 L1291.2,431.7 L1292.7,432.4 L1294.2,433.1 L1295.8,433.7 L1297.3,434.4 L1298.8,435.0 L1300.3,435.6 L1301.8,436.1 L1303.3,436.7 L1304.8,437.2 L1306.3,437.8 L1307.8,438.3 L1309.3,438.8 L1310.8,439.3 L1312.3,439.7 L1313.8,440.2 L1315.3,440.6 L1316.8,441.0 L1318.3,441.5 L1319.8,441.9 L1321.3,442.3 L1322.8,442.6 L1324.3,443.0 L1325.9,443.4 L1327.4,443.7 L1328.9,444.1 L1330.4,444.4 L1331.9,444.7 L1333.4,445.0 L1334.9,445.3 L1336.4,445.6 L1337.9,445.9 L1339.4,446.2 L1339.4,478.5 Z" fill="#0000ff" fill-opacity="0.6"/>
<path d="M919.5,458.1 L921.0,458.0 L922.5,457.9 L924.0,457.8 L925.5,457.7 L927.0,457.6 L928.5,457.6 L930.0,457.5 L931.5,457.4 L933.0,457.3 L934.6,457.2 L936.1,457.1 L937.6,457.0 L939.1,456.8 L940.6,456.7 L942.1,456.6 L943.6,456.5 L945.1,456.4 L946.6,456.3 L948.1,456.2 L949.6,456.1 L951.1,455.9 L952.6,455.8 L954.1,455.7 L955.6,455.6 L957.1,455.4 L958.6,455.3 L960.1,455.2 L961.6,455.0 L963.1,454.9 L964.7,454.7 L966.2,454.6 L967.7,454.4 L969.2,454.3 L970.7,454.1 L972.2,454.0 L973.7,453.8 L975.2,453.7 L976.7,453.5 L978.2,453.3 L979.7,453.1 L981.2,453.0 L982.7,452.8 L984.2,452.6 L985.7,452.4 L987.2,452.2 L988.7,452.0 L990.2,451.8 L991.7,451.6 L993.2,451.4 L994.8,451.2 L996.3,451.0 L997.8,450.7 L999.3,450.5 L1000.8,450.3 L1002.3,450.0 L1003.8,449.8 L1005.3,449.5 L1006.8,449.3 L1008.3,449.0 L1009.8,448.7 L1011.3,448.5 L1012.8,448.2 L1014.3,447.9 L1015.8,447.6 L1017.3,447.3 L1018.8,447.0 L1020.3,446.6 L1021.8,446.3 L1023.3,446.0 L1024.9,445.6 L1026.4,445.3 L1027.9,444.9 L1029.4,444.5 L1030.9,444.1 L1032.4,443.8 L1033.9,443.3 L1035.4,442.9 L1036.9,442.5 L1038.4,442.1 L1039.9,441.6 L1041.4,441.1 L1042.9,440.7 L1044.4,440.2 L1045.9,439.7 L1047.4,439.1 L1048.9,438.6 L1050.4,438.0 L1051.9,437.5 L1053.4,436.9 L1055.0,436.3 L1056.5,435.6 L1058.0,435.0 L1059.5,434.3 L1061.0,433.6 L1062.5,432.9 L1064.0,432.2 L1065.5,431.4 L1067.0,430.7 L1068.5,429.9 L1070.0,429.0 L1071.5,428.2 L1073.0,427.3 L1074.5,426.3 L1076.0,425.4 L1077.5,424.4 L1079.0,423.4 L1080.5,422.3 L1082.0,421.2 L1083.5,420.1 L1085.1,418.9 L1086.6,417.7 L1088.1,416.4 L1089.6,415.1 L1091.1,413.7 L1092.6,412.3 L1094.1,410.8 L1095.6,409.3 L1097.1,407.7 L1098.6,406.1 L1100.1,404.3 L1101.6,402.6 L1103.1,400.7 L1104.6,398.8 L1106.1,396.8 L1107.6,394.7 L1109.1,392.6 L1110.6,390.3 L1112.1,388.0 L1113.6,385.5 L1115.2,383.0 L1116.7,380.4 L1118.2,377.7 L1119.7,374.8 L1121.2,371.9 L1122.7,368.8 L1124.2,365.6 L1125.7,362.4 L1127.2,358.9 L1128.7,355.4 L1130.2,351.7 L1131.7,347.9 L1133.2,344.0 L1134.7,340.0 L1136.2,335.8 L1137.7,331.5 L1139.2,327.1 L1140.7,322.5 L1142.2,317.9 L1143.7,313.2 L1145.3,308.4 L1146.8,303.5 L1148.3,298.5 L1149.8,293.5 L1151.3,288.5 L1152.8,283.5 L1154.3,278.6 L1155.8,273.7 L1157.3,268.9 L1158.8,264.3 L1160.3,259.8 L1161.8,255.5 L1163.3,251.5 L1164.8,247.7 L1166.3,244.3 L1167.8,241.3 L1169.3,238.6 L1170.8,236.4 L1172.3,234.6 L1173.8,233.3 L1175.4,232.5 L1176.9,232.2 L1178.4,232.4 L1179.9,233.1 L1181.4,234.4 L1182.9,236.1 L1184.4,238.2 L1185.9,240.8 L1187.4,243.8 L1188.9,247.2 L1190.4,250.9 L1191.9,254.9 L1193.4,259.1 L1194.9,263.5 L1196.4,268.2 L1197.9,272.9 L1199.4,277.8 L1200.9,282.7 L1202.4,287.7 L1203.9,292.7 L1205.5,297.6 L1207.0,302.6 L1208.5,307.4 L1210.0,312.3 L1211.5,317.0 L1213.0,321.6 L1214.5,326.1 L1216.0,330.6 L1217.5,334.9 L1219.0,339.0 L1220.5,343.1 L1222.0,347.0 L1223.5,350.8 L1225.0,354.5 L1226.5,358.0 L1228.0,361.4 L1229.5,364.7 L1231.0,367.9 L1232.5,371.0 L1234.0,373.9 L1235.6,376.7 L1237.1,379.5 L1238.6,382.1 L1240.1,384.6 L1241.6,387.0 L1243.1,389.4 L1244.6,391.6 L1246.1,393.8 L1247.6,395.8 L1249.1,397.8 L1250.6,399.7 L1252.1,401.6 L1253.6,403.4 L1255.1,405.1 L1256.6,406.7 L1258.1,408.3 L1259.6,409.8 L1261.1,411.3 L1262.6,412.7 L1264.1,414.0 L1265.7,415.3 L1267.2,416.6 L1268.7,417.8 L1270.2,419.0 L1271.7,420.1 L1273.2,421.2 L1274.7,422.3 L1276.2,423.3 L1277.7,424.2 L1279.2,425.2 L1280.7,426.1 L1282.2,427.0 L1283.7,427.8 L1285.2,428.7 L1286.7,429.5 L1288.2,430.2 L1289.7,431.0 L1291.2,431.7 L1292.7,432.4 L1294.2,433.1 L1295.8,433.7 L1297.3,434.4 L1298.8,435.0 L1300.3,435.6 L1301.8,436.1 L1303.3,436.7 L1304.8,437.2 L1306.3,437.8 L1307.8,438.3 L1309.3,438.8 L1310.8,439.3 L1312.3,439.7 L1313.8,440.2 L1315.3,440.6 L1316.8,441.0 L1318.3,441.5 L1319.8,441.9 L1321.3,442.3 L1322.8,442.6 L1324.3,443.0 L1325.9,443.4 L1327.4,443.7 L1328.9,444.1 L1330.4,444.4 L1331.9,444.7 L1333.4,445.0 L1334.9,445.3 L1336.4,445.6 L1337.9,445.9 L1339.4,446.2" fill="none" stroke="#2020ff" stroke-width="1.3"/>
<path d="M919.5,458.1 L921.0,458.0 L922.5,457.9 L924.0,457.8 L925.5,457.7 L927.0,457.6 L928.5,457.6 L930.0,457.5 L931.5,457.4 L933.0,457.3 L934.6,457.2 L936.1,457.1 L937.6,457.0 L939.1,456.8 L940.6,456.7 L942.1,456.6 L943.6,456.5 L945.1,456.4 L946.6,456.3 L948.1,456.2 L949.6,456.1 L951.1,455.9 L952.6,455.8 L954.1,455.7 L955.6,455.6 L957.1,455.4 L958.6,455.3 L960.1,455.2 L961.6,455.0 L963.1,454.9 L964.7,454.7 L966.2,454.6 L967.7,454.4 L969.2,454.3 L970.7,454.1 L972.2,454.0 L973.7,453.8 L975.2,453.7 L976.7,453.5 L978.2,453.3 L979.7,453.1 L981.2,453.0 L982.7,452.8 L984.2,452.6 L985.7,452.4 L987.2,452.2 L988.7,452.0 L990.2,451.8 L991.7,451.6 L993.2,451.4 L994.8,451.2 L996.3,451.0 L997.8,450.7 L999.3,450.5 L1000.8,450.3 L1002.3,450.0 L1003.8,449.8 L1005.3,449.5 L1006.8,449.3 L1008.3,449.0 L1009.8,448.7 L1011.3,448.5 L1012.8,448.2 L1014.3,447.9 L1015.8,447.6 L1017.3,447.3 L1018.8,447.0 L1020.3,446.6 L1021.8,446.3 L1023.3,446.0 L1024.9,445.6 L1026.4,445.3 L1027.9,444.9 L1029.4,444.5 L1030.9,444.1 L1032.4,443.8 L1033.9,443.3 L1035.4,442.9 L1036.9,442.5 L1038.4,442.1 L1039.9,441.6 L1041.4,441.1 L1042.9,440.7 L1044.4,440.2 L1045.9,439.7 L1047.4,439.1 L1048.9,438.6 L1050.4,438.0 L1051.9,437.5 L1053.4,436.9 L1055.0,436.3 L1056.5,435.6 L1058.0,435.0 L1059.5,434.3 L1061.0,433.6 L1062.5,432.9 L1064.0,432.2 L1065.5,431.4 L1067.0,430.7 L1068.5,429.8 L1070.0,429.0 L1071.5,428.1 L1073.0,427.3 L1074.5,426.3 L1076.0,425.4 L1077.5,424.4 L1079.0,423.4 L1080.5,422.3 L1082.0,421.2 L1083.5,420.1 L1085.1,418.9 L1086.6,417.7 L1088.1,416.4 L1089.6,415.1 L1091.1,413.7 L1092.6,412.3 L1094.1,410.8 L1095.6,409.3 L1097.1,407.7 L1098.6,406.0 L1100.1,404.3 L1101.6,402.5 L1103.1,400.7 L1104.6,398.7 L1106.1,396.7 L1107.6,394.7 L1109.1,392.5 L1110.6,390.2 L1112.1,387.9 L1113.6,385.4 L1115.2,382.9 L1116.7,380.3 L1118.2,377.5 L1119.7,374.6 L1121.2,371.7 L1122.7,368.6 L1124.2,365.4 L1125.7,362.0 L1127.2,358.5 L1128.7,354.9 L1130.2,351.2 L1131.7,347.3 L1133.2,343.3 L1134.7,339.2 L1136.2,334.9 L1137.7,330.4 L1139.2,325.9 L1140.7,321.2 L1142.2,316.4 L1143.7,311.4 L1145.3,306.4 L1146.8,301.3 L1148.3,296.0 L1149.8,290.7 L1151.3,285.4 L1152.8,280.0 L1154.3,274.6 L1155.8,269.3 L1157.3,263.9 L1158.8,258.7 L1160.3,253.6 L1161.8,248.6 L1163.3,243.8 L1164.8,239.3 L1166.3,234.9 L1167.8,230.9 L1169.3,227.2 L1170.8,223.8 L1172.3,220.7 L1173.8,218.1 L1175.4,215.8 L1176.9,213.9 L1178.4,212.5 L1179.9,211.4 L1181.4,210.6 L1182.9,210.2 L1184.4,210.2 L1185.9,210.4 L1187.4,210.9 L1188.9,211.6 L1190.4,212.5 L1191.9,213.5 L1193.4,214.6 L1194.9,215.7 L1196.4,216.9 L1197.9,218.1 L1199.4,219.1 L1200.9,220.1 L1202.4,221.0 L1203.9,221.7 L1205.5,222.3 L1207.0,222.7 L1208.5,222.9 L1210.0,222.9 L1211.5,222.6 L1213.0,222.2 L1214.5,221.6 L1216.0,220.7 L1217.5,219.6 L1219.0,218.4 L1220.5,217.0 L1222.0,215.4 L1223.5,213.7 L1225.0,211.8 L1226.5,209.8 L1228.0,207.7 L1229.5,205.6 L1231.0,203.4 L1232.5,201.2 L1234.0,198.9 L1235.6,196.7 L1237.1,194.6 L1238.6,192.4 L1240.1,190.4 L1241.6,188.5 L1243.1,186.7 L1244.6,185.1 L1246.1,183.7 L1247.6,182.4 L1249.1,181.4 L1250.6,180.5 L1252.1,180.0 L1253.6,179.7 L1255.1,179.6 L1256.6,179.9 L1258.1,180.4 L1259.6,181.3 L1261.1,182.4 L1262.6,183.8 L1264.1,185.6 L1265.7,187.7 L1267.2,190.1 L1268.7,192.8 L1270.2,195.8 L1271.7,199.1 L1273.2,202.6 L1274.7,206.5 L1276.2,210.6 L1277.7,215.0 L1279.2,219.6 L1280.7,224.4 L1282.2,229.5 L1283.7,234.7 L1285.2,240.1 L1286.7,245.7 L1288.2,251.4 L1289.7,257.2 L1291.2,263.2 L1292.7,269.2 L1294.2,275.2 L1295.8,281.4 L1297.3,287.5 L1298.8,293.6 L1300.3,299.8 L1301.8,305.9 L1303.3,311.9 L1304.8,317.9 L1306.3,323.9 L1307.8,329.7 L1309.3,335.4 L1310.8,341.1 L1312.3,346.6 L1313.8,351.9 L1315.3,357.2 L1316.8,362.3 L1318.3,367.2 L1319.8,372.0 L1321.3,376.6 L1322.8,381.0 L1324.3,385.3 L1325.9,389.4 L1327.4,393.3 L1328.9,397.1 L1330.4,400.7 L1331.9,404.1 L1333.4,407.3 L1334.9,410.4 L1336.4,413.3 L1337.9,416.1 L1339.4,418.7" fill="none" stroke="#000" stroke-width="1.3" stroke-dasharray="4,3"/>
<path d="M918.2,464.7 L919.9,461.9 L923.1,462.9 L925.7,463.6 L927.9,463.7 L930.9,459.4 L933.1,453.9 L935.7,455.4 L938.7,460.0 L941.7,458.8 L944.2,458.8 L947.1,461.7 L949.6,465.2 L952.7,456.4 L955.2,457.0 L957.2,453.5 L960.3,455.6 L963.4,464.0 L966.0,462.0 L968.6,462.9 L970.6,461.6 L972.3,458.4 L975.3,452.0 L977.6,456.2 L980.2,458.9 L982.4,454.2 L984.9,454.1 L987.4,460.2 L989.7,452.9 L991.5,450.7 L994.6,451.8 L996.9,457.1 L999.9,457.6 L1002.2,451.5 L1004.0,454.3 L1006.4,450.5 L1008.6,449.7 L1010.6,454.0 L1012.3,443.7 L1014.9,447.8 L1016.9,447.9 L1019.2,445.7 L1022.0,447.6 L1024.9,437.6 L1027.3,431.7 L1030.4,433.0 L1033.2,425.6 L1035.8,430.7 L1038.0,429.5 L1040.6,419.3 L1043.6,428.4 L1046.2,422.6 L1048.4,423.3 L1050.7,423.9 L1052.7,426.8 L1054.9,418.1 L1056.8,414.7 L1059.7,414.7 L1061.6,410.1 L1064.0,410.2 L1066.0,403.5 L1069.0,409.7 L1071.9,405.7 L1074.8,400.4 L1076.5,399.2 L1078.7,399.8 L1081.5,391.7 L1083.5,385.9 L1085.5,387.4 L1088.2,385.6 L1090.1,386.1 L1091.8,376.3 L1094.2,376.3 L1096.6,374.4 L1098.3,373.8 L1100.9,371.8 L1104.0,371.6 L1106.5,365.7 L1108.4,362.3 L1111.2,370.5 L1112.9,358.8 L1114.8,364.8 L1117.7,361.8 L1119.9,351.9 L1122.8,345.6 L1124.9,340.0 L1126.8,335.0 L1129.5,321.9 L1132.3,325.7 L1134.6,322.4 L1137.5,322.6 L1140.1,316.4 L1142.1,316.6 L1144.3,308.2 L1146.3,287.1 L1148.2,287.6 L1150.7,284.3 L1153.2,270.9 L1156.0,277.6 L1158.6,264.0 L1161.5,257.8 L1163.2,252.0 L1165.2,240.9 L1168.2,244.4 L1170.4,237.2 L1172.6,235.4 L1175.7,245.4 L1178.7,239.9 L1181.5,240.1 L1183.6,230.2 L1185.6,217.9 L1187.7,204.1 L1189.4,198.8 L1191.7,201.3 L1193.9,201.6 L1196.2,203.1 L1198.4,200.2 L1200.8,195.8 L1203.8,202.4 L1205.5,198.0 L1208.6,196.9 L1210.4,200.1 L1212.4,200.8 L1214.2,204.8 L1217.3,206.1 L1219.7,205.3 L1222.5,206.8 L1224.7,208.5 L1226.9,212.6 L1229.3,205.1 L1231.8,212.2 L1234.7,207.1 L1237.3,202.3 L1239.0,206.0 L1240.8,205.3 L1243.6,205.1 L1245.6,195.5 L1248.2,200.6 L1249.9,203.4 L1252.0,195.9 L1254.1,194.5 L1256.2,189.3 L1258.5,195.1 L1260.7,196.3 L1263.7,190.3 L1265.8,194.4 L1268.7,197.1 L1271.2,193.5 L1273.8,191.0 L1275.9,193.0 L1278.3,190.3 L1280.6,198.7 L1283.6,190.4 L1285.9,193.9 L1287.8,202.5 L1290.3,217.3 L1292.5,234.3 L1295.1,250.7 L1297.8,269.0 L1300.0,283.1 L1302.7,295.0 L1305.0,307.2 L1307.8,325.4 L1310.2,340.0 L1312.1,345.9 L1314.5,360.8 L1316.4,375.8 L1318.5,385.4 L1320.8,388.0" fill="none" stroke="#333" stroke-width="1.2" stroke-linejoin="round"/>
<rect x="919.0" y="80.5" width="430.0" height="399.0" fill="none" stroke="#000" stroke-width="2.8"/>
<text transform="translate(934.95,116.05) scale(1.0363,1.0465)" font-size="33.00" fill="#ff0000" text-anchor="start" font-family="Liberation Sans, Arial, Helvetica, sans-serif" font-weight="bold" >5W-BiVO</text>
<text transform="translate(1079.26,121.82) scale(1.0236,1.0795)" font-size="33.00" fill="#ff0000" text-anchor="start" font-family="Liberation Sans, Arial, Helvetica, sans-serif" font-weight="bold" >4</text>
<text transform="translate(1220.30,159.45) scale(1.0778,1.0363)" font-size="19.70" fill="#ff0000" text-anchor="start" font-family="Liberation Sans, Arial, Helvetica, sans-serif" font-weight="bold" >O Vacancy</text>
<text transform="translate(1052.51,187.00) scale(1.0819,1.1073)" font-size="19.30" fill="#0000ff" text-anchor="start" font-family="Liberation Sans, Arial, Helvetica, sans-serif" font-weight="bold" >Lattice&#160; O</text>
<text transform="translate(934.65,263.58) scale(1.1336,1.0932)" font-size="30.00" fill="#000" text-anchor="start" font-family="Liberation Sans, Arial, Helvetica, sans-serif" font-weight="bold" >O1s</text>
<line x1="1096.3" y1="204" x2="1142" y2="266" stroke="#0000ff" stroke-width="1.6"/>
<polygon points="1145.4,271.6 1133,262 1140,257" fill="#0000ff"/>
<line x1="1326.2" y1="183.5" x2="1285" y2="316" stroke="#ff0000" stroke-width="1.6"/>
<polygon points="1283.6,320.1 1280,305 1288,307" fill="#ff0000"/>
<text transform="translate(919.18,510.19) scale(1.0669,1.1639)" font-size="25.00" fill="#000" text-anchor="middle" font-family="Liberation Sans, Arial, Helvetica, sans-serif" font-weight="bold" >538</text>
<text transform="translate(1008.88,510.19) scale(1.0669,1.1639)" font-size="25.00" fill="#000" text-anchor="middle" font-family="Liberation Sans, Arial, Helvetica, sans-serif" font-weight="bold" >536</text>
<text transform="translate(1099.98,510.19) scale(1.0669,1.1639)" font-size="25.00" fill="#000" text-anchor="middle" font-family="Liberation Sans, Arial, Helvetica, sans-serif" font-weight="bold" >534</text>
<text transform="translate(1190.18,510.19) scale(1.0669,1.1639)" font-size="25.00" fill="#000" text-anchor="middle" font-family="Liberation Sans, Arial, Helvetica, sans-serif" font-weight="bold" >532</text>
<text transform="translate(1280.68,510.19) scale(1.0669,1.1639)" font-size="25.00" fill="#000" text-anchor="middle" font-family="Liberation Sans, Arial, Helvetica, sans-serif" font-weight="bold" >530</text>
<text transform="translate(983.28,549.38) scale(1.0575,1.0308)" font-size="32.00" fill="#000" text-anchor="start" font-family="Liberation Sans, Arial, Helvetica, sans-serif" font-weight="bold" >Binding Energy eV</text>
<path d="M1080.5,1021.0 L1080.5,990.8 L1082.0,990.8 L1083.5,990.8 L1085.0,990.7 L1086.5,990.7 L1088.0,990.7 L1089.5,990.7 L1091.0,990.7 L1092.5,990.7 L1094.0,990.7 L1095.5,990.7 L1097.0,990.6 L1098.5,990.6 L1100.0,990.6 L1101.5,990.6 L1103.0,990.6 L1104.5,990.6 L1106.0,990.6 L1107.5,990.6 L1109.0,990.5 L1110.5,990.5 L1112.0,990.5 L1113.5,990.5 L1115.0,990.5 L1116.5,990.5 L1118.0,990.5 L1119.5,990.5 L1121.0,990.4 L1122.5,990.4 L1124.0,990.4 L1125.5,990.4 L1127.0,990.4 L1128.5,990.4 L1130.0,990.4 L1131.5,990.4 L1133.0,990.4 L1134.5,990.3 L1136.0,990.3 L1137.5,990.3 L1139.0,990.3 L1140.5,990.3 L1142.0,990.3 L1143.5,990.3 L1145.0,990.3 L1146.5,990.2 L1148.0,990.2 L1149.5,990.2 L1151.0,990.2 L1152.5,990.2 L1154.0,990.2 L1155.5,990.2 L1157.0,990.2 L1158.5,990.1 L1160.0,990.1 L1161.5,990.1 L1163.0,990.1 L1164.5,990.1 L1166.0,990.1 L1167.5,990.1 L1169.0,990.1 L1170.5,990.0 L1172.0,990.0 L1173.5,990.0 L1175.0,990.0 L1176.5,990.0 L1178.0,990.0 L1179.5,990.0 L1181.0,990.0 L1182.5,990.0 L1184.0,989.9 L1185.5,989.9 L1187.0,989.9 L1188.5,989.9 L1190.0,989.9 L1191.5,989.9 L1193.0,989.9 L1194.5,989.9 L1196.0,989.8 L1197.5,989.8 L1199.0,989.8 L1200.5,989.8 L1202.0,989.8 L1203.5,989.8 L1205.0,989.8 L1206.5,989.8 L1208.0,989.7 L1209.5,989.7 L1211.0,989.7 L1212.5,989.7 L1214.0,989.7 L1215.5,989.7 L1217.0,989.7 L1218.5,989.6 L1220.0,989.6 L1221.5,989.6 L1223.0,989.6 L1224.5,989.6 L1226.0,989.6 L1227.5,989.5 L1229.0,989.5 L1230.5,989.5 L1232.0,989.5 L1233.5,989.5 L1235.0,989.4 L1236.5,989.4 L1238.0,989.4 L1239.5,989.3 L1241.0,989.3 L1242.5,989.3 L1244.0,989.2 L1245.5,989.2 L1247.0,989.1 L1248.5,989.1 L1250.0,989.0 L1251.5,988.9 L1253.0,988.9 L1254.5,988.8 L1256.0,988.7 L1257.5,988.6 L1259.0,988.5 L1260.5,988.3 L1262.0,988.2 L1263.5,988.1 L1265.0,987.9 L1266.5,987.7 L1268.0,987.5 L1269.5,987.3 L1271.0,987.0 L1272.5,986.7 L1274.0,986.4 L1275.5,986.1 L1277.0,985.7 L1278.5,985.3 L1280.0,984.8 L1281.5,984.3 L1283.0,983.8 L1284.6,983.2 L1286.1,982.6 L1287.6,981.9 L1289.1,981.1 L1290.6,980.3 L1292.1,979.4 L1293.6,978.5 L1295.1,977.5 L1296.6,976.3 L1298.1,975.2 L1299.6,973.9 L1301.1,972.5 L1302.6,971.0 L1304.1,969.5 L1305.6,967.8 L1307.1,966.0 L1308.6,964.1 L1310.1,962.1 L1311.6,959.9 L1313.1,957.7 L1314.6,955.3 L1316.1,952.7 L1317.6,950.1 L1319.1,947.3 L1320.6,944.4 L1322.1,941.3 L1323.6,938.1 L1325.1,934.8 L1326.6,931.3 L1328.1,927.7 L1329.6,924.0 L1331.1,920.2 L1332.6,916.2 L1334.1,912.1 L1335.6,907.9 L1337.1,903.5 L1338.6,899.1 L1340.1,894.6 L1341.6,890.0 L1343.1,885.3 L1344.6,880.5 L1346.1,875.7 L1347.6,870.9 L1349.1,866.0 L1350.6,861.1 L1352.1,856.2 L1353.6,851.3 L1355.1,846.4 L1356.6,841.6 L1358.1,836.8 L1359.6,832.0 L1361.1,827.4 L1362.6,822.9 L1364.1,818.4 L1365.6,814.1 L1367.1,810.0 L1368.6,806.0 L1370.1,802.2 L1371.6,798.6 L1373.1,795.2 L1374.6,792.0 L1376.1,789.1 L1377.6,786.4 L1379.1,783.9 L1380.6,781.7 L1382.1,779.8 L1383.6,778.2 L1385.1,776.8 L1386.6,775.8 L1388.1,775.0 L1389.6,774.6 L1391.1,774.5 L1392.6,774.6 L1394.1,775.1 L1395.6,775.9 L1397.1,776.9 L1398.6,778.3 L1400.1,780.0 L1401.6,781.9 L1403.1,784.1 L1404.6,786.6 L1406.1,789.3 L1407.6,792.3 L1409.1,795.5 L1410.6,798.9 L1412.1,802.5 L1413.6,806.3 L1415.1,810.3 L1416.6,814.5 L1418.1,818.8 L1419.6,823.2 L1421.1,827.7 L1422.6,832.3 L1424.1,837.1 L1425.6,841.8 L1427.1,846.7 L1428.6,851.5 L1430.1,856.4 L1431.6,861.3 L1433.1,866.2 L1434.6,871.0 L1436.1,875.8 L1437.6,880.6 L1439.1,885.3 L1440.6,890.0 L1442.1,894.6 L1443.6,899.0 L1445.1,903.4 L1446.6,907.7 L1448.1,911.9 L1449.6,915.9 L1451.1,919.9 L1452.6,923.7 L1454.1,927.4 L1455.6,930.9 L1457.1,934.3 L1458.6,937.6 L1460.1,940.8 L1461.6,943.8 L1463.1,946.6 L1464.6,949.4 L1466.1,952.0 L1467.6,954.5 L1469.1,956.8 L1470.6,959.0 L1472.1,961.1 L1473.6,963.1 L1475.1,964.9 L1476.6,966.7 L1478.1,968.3 L1479.6,969.9 L1481.1,971.3 L1482.6,972.6 L1484.1,973.9 L1485.6,975.0 L1485.6,1021.0 Z" fill="url(#g3r)" />
<path d="M1080.5,990.8 L1082.0,990.8 L1083.5,990.8 L1085.0,990.7 L1086.5,990.7 L1088.0,990.7 L1089.5,990.7 L1091.0,990.7 L1092.5,990.7 L1094.0,990.7 L1095.5,990.7 L1097.0,990.6 L1098.5,990.6 L1100.0,990.6 L1101.5,990.6 L1103.0,990.6 L1104.5,990.6 L1106.0,990.6 L1107.5,990.6 L1109.0,990.5 L1110.5,990.5 L1112.0,990.5 L1113.5,990.5 L1115.0,990.5 L1116.5,990.5 L1118.0,990.5 L1119.5,990.5 L1121.0,990.4 L1122.5,990.4 L1124.0,990.4 L1125.5,990.4 L1127.0,990.4 L1128.5,990.4 L1130.0,990.4 L1131.5,990.4 L1133.0,990.4 L1134.5,990.3 L1136.0,990.3 L1137.5,990.3 L1139.0,990.3 L1140.5,990.3 L1142.0,990.3 L1143.5,990.3 L1145.0,990.3 L1146.5,990.2 L1148.0,990.2 L1149.5,990.2 L1151.0,990.2 L1152.5,990.2 L1154.0,990.2 L1155.5,990.2 L1157.0,990.2 L1158.5,990.1 L1160.0,990.1 L1161.5,990.1 L1163.0,990.1 L1164.5,990.1 L1166.0,990.1 L1167.5,990.1 L1169.0,990.1 L1170.5,990.0 L1172.0,990.0 L1173.5,990.0 L1175.0,990.0 L1176.5,990.0 L1178.0,990.0 L1179.5,990.0 L1181.0,990.0 L1182.5,990.0 L1184.0,989.9 L1185.5,989.9 L1187.0,989.9 L1188.5,989.9 L1190.0,989.9 L1191.5,989.9 L1193.0,989.9 L1194.5,989.9 L1196.0,989.8 L1197.5,989.8 L1199.0,989.8 L1200.5,989.8 L1202.0,989.8 L1203.5,989.8 L1205.0,989.8 L1206.5,989.8 L1208.0,989.7 L1209.5,989.7 L1211.0,989.7 L1212.5,989.7 L1214.0,989.7 L1215.5,989.7 L1217.0,989.7 L1218.5,989.6 L1220.0,989.6 L1221.5,989.6 L1223.0,989.6 L1224.5,989.6 L1226.0,989.6 L1227.5,989.5 L1229.0,989.5 L1230.5,989.5 L1232.0,989.5 L1233.5,989.5 L1235.0,989.4 L1236.5,989.4 L1238.0,989.4 L1239.5,989.3 L1241.0,989.3 L1242.5,989.3 L1244.0,989.2 L1245.5,989.2 L1247.0,989.1 L1248.5,989.1 L1250.0,989.0 L1251.5,988.9 L1253.0,988.9 L1254.5,988.8 L1256.0,988.7 L1257.5,988.6 L1259.0,988.5 L1260.5,988.3 L1262.0,988.2 L1263.5,988.1 L1265.0,987.9 L1266.5,987.7 L1268.0,987.5 L1269.5,987.3 L1271.0,987.0 L1272.5,986.7 L1274.0,986.4 L1275.5,986.1 L1277.0,985.7 L1278.5,985.3 L1280.0,984.8 L1281.5,984.3 L1283.0,983.8 L1284.6,983.2 L1286.1,982.6 L1287.6,981.9 L1289.1,981.1 L1290.6,980.3 L1292.1,979.4 L1293.6,978.5 L1295.1,977.5 L1296.6,976.3 L1298.1,975.2 L1299.6,973.9 L1301.1,972.5 L1302.6,971.0 L1304.1,969.5 L1305.6,967.8 L1307.1,966.0 L1308.6,964.1 L1310.1,962.1 L1311.6,959.9 L1313.1,957.7 L1314.6,955.3 L1316.1,952.7 L1317.6,950.1 L1319.1,947.3 L1320.6,944.4 L1322.1,941.3 L1323.6,938.1 L1325.1,934.8 L1326.6,931.3 L1328.1,927.7 L1329.6,924.0 L1331.1,920.2 L1332.6,916.2 L1334.1,912.1 L1335.6,907.9 L1337.1,903.5 L1338.6,899.1 L1340.1,894.6 L1341.6,890.0 L1343.1,885.3 L1344.6,880.5 L1346.1,875.7 L1347.6,870.9 L1349.1,866.0 L1350.6,861.1 L1352.1,856.2 L1353.6,851.3 L1355.1,846.4 L1356.6,841.6 L1358.1,836.8 L1359.6,832.0 L1361.1,827.4 L1362.6,822.9 L1364.1,818.4 L1365.6,814.1 L1367.1,810.0 L1368.6,806.0 L1370.1,802.2 L1371.6,798.6 L1373.1,795.2 L1374.6,792.0 L1376.1,789.1 L1377.6,786.4 L1379.1,783.9 L1380.6,781.7 L1382.1,779.8 L1383.6,778.2 L1385.1,776.8 L1386.6,775.8 L1388.1,775.0 L1389.6,774.6 L1391.1,774.5 L1392.6,774.6 L1394.1,775.1 L1395.6,775.9 L1397.1,776.9 L1398.6,778.3 L1400.1,780.0 L1401.6,781.9 L1403.1,784.1 L1404.6,786.6 L1406.1,789.3 L1407.6,792.3 L1409.1,795.5 L1410.6,798.9 L1412.1,802.5 L1413.6,806.3 L1415.1,810.3 L1416.6,814.5 L1418.1,818.8 L1419.6,823.2 L1421.1,827.7 L1422.6,832.3 L1424.1,837.1 L1425.6,841.8 L1427.1,846.7 L1428.6,851.5 L1430.1,856.4 L1431.6,861.3 L1433.1,866.2 L1434.6,871.0 L1436.1,875.8 L1437.6,880.6 L1439.1,885.3 L1440.6,890.0 L1442.1,894.6 L1443.6,899.0 L1445.1,903.4 L1446.6,907.7 L1448.1,911.9 L1449.6,915.9 L1451.1,919.9 L1452.6,923.7 L1454.1,927.4 L1455.6,930.9 L1457.1,934.3 L1458.6,937.6 L1460.1,940.8 L1461.6,943.8 L1463.1,946.6 L1464.6,949.4 L1466.1,952.0 L1467.6,954.5 L1469.1,956.8 L1470.6,959.0 L1472.1,961.1 L1473.6,963.1 L1475.1,964.9 L1476.6,966.7 L1478.1,968.3 L1479.6,969.9 L1481.1,971.3 L1482.6,972.6 L1484.1,973.9 L1485.6,975.0" fill="none" stroke="#ff0000" stroke-width="1.6"/>
<path d="M1080.5,1021.0 L1080.5,974.8 L1082.0,974.6 L1083.5,974.4 L1085.0,974.2 L1086.5,974.0 L1088.0,973.8 L1089.5,973.6 L1091.0,973.4 L1092.5,973.2 L1094.0,973.0 L1095.5,972.8 L1097.0,972.5 L1098.5,972.3 L1100.0,972.1 L1101.5,971.8 L1103.0,971.6 L1104.5,971.3 L1106.0,971.1 L1107.5,970.8 L1109.0,970.5 L1110.5,970.3 L1112.0,970.0 L1113.5,969.7 L1115.0,969.4 L1116.5,969.1 L1118.0,968.8 L1119.5,968.5 L1121.0,968.1 L1122.5,967.8 L1124.0,967.5 L1125.5,967.1 L1127.0,966.7 L1128.5,966.4 L1130.0,966.0 L1131.5,965.6 L1133.0,965.2 L1134.5,964.8 L1136.0,964.4 L1137.5,963.9 L1139.0,963.5 L1140.5,963.0 L1142.0,962.5 L1143.5,962.1 L1145.0,961.6 L1146.5,961.0 L1148.0,960.5 L1149.5,960.0 L1151.0,959.4 L1152.5,958.8 L1154.0,958.2 L1155.5,957.6 L1157.0,957.0 L1158.5,956.3 L1160.0,955.6 L1161.5,954.9 L1163.0,954.2 L1164.5,953.5 L1166.0,952.7 L1167.5,951.9 L1169.0,951.1 L1170.5,950.2 L1172.0,949.3 L1173.5,948.4 L1175.0,947.5 L1176.5,946.5 L1178.0,945.5 L1179.5,944.5 L1181.0,943.4 L1182.5,942.2 L1184.0,941.1 L1185.5,939.9 L1187.0,938.6 L1188.5,937.3 L1190.0,936.0 L1191.5,934.5 L1193.0,933.1 L1194.5,931.6 L1196.0,930.0 L1197.5,928.3 L1199.0,926.6 L1200.5,924.9 L1202.0,923.0 L1203.5,921.1 L1205.0,919.1 L1206.5,917.0 L1208.0,914.8 L1209.5,912.5 L1211.0,910.1 L1212.5,907.7 L1214.0,905.1 L1215.5,902.4 L1217.0,899.6 L1218.5,896.6 L1220.0,893.6 L1221.5,890.4 L1223.0,887.1 L1224.5,883.6 L1226.0,880.0 L1227.5,876.2 L1229.0,872.2 L1230.5,868.1 L1232.0,863.9 L1233.5,859.4 L1235.0,854.8 L1236.5,850.0 L1238.0,845.0 L1239.5,839.8 L1241.0,834.4 L1242.5,828.9 L1244.0,823.2 L1245.5,817.3 L1247.0,811.2 L1248.5,805.0 L1250.0,798.7 L1251.5,792.2 L1253.0,785.7 L1254.5,779.1 L1256.0,772.5 L1257.5,765.9 L1259.0,759.3 L1260.5,752.8 L1262.0,746.5 L1263.5,740.4 L1265.0,734.5 L1266.5,729.0 L1268.0,723.9 L1269.5,719.2 L1271.0,715.0 L1272.5,711.4 L1274.0,708.4 L1275.5,706.1 L1277.0,704.4 L1278.5,703.5 L1280.0,703.3 L1281.5,703.9 L1283.0,705.2 L1284.6,707.2 L1286.1,709.8 L1287.6,713.1 L1289.1,717.0 L1290.6,721.4 L1292.1,726.3 L1293.6,731.7 L1295.1,737.3 L1296.6,743.3 L1298.1,749.5 L1299.6,755.9 L1301.1,762.4 L1302.6,769.0 L1304.1,775.6 L1305.6,782.2 L1307.1,788.7 L1308.6,795.2 L1310.1,801.6 L1311.6,807.8 L1313.1,813.9 L1314.6,819.8 L1316.1,825.6 L1317.6,831.2 L1319.1,836.6 L1320.6,841.9 L1322.1,846.9 L1323.6,851.8 L1325.1,856.5 L1326.6,861.0 L1328.1,865.3 L1329.6,869.5 L1331.1,873.5 L1332.6,877.3 L1334.1,881.0 L1335.6,884.5 L1337.1,887.9 L1338.6,891.1 L1340.1,894.2 L1341.6,897.2 L1343.1,900.0 L1344.6,902.7 L1346.1,905.3 L1347.6,907.8 L1349.1,910.2 L1350.6,912.5 L1352.1,914.7 L1353.6,916.8 L1355.1,918.9 L1356.6,920.8 L1358.1,922.7 L1359.6,924.5 L1361.1,926.2 L1362.6,927.8 L1364.1,929.4 L1365.6,930.9 L1367.1,932.4 L1368.6,933.8 L1370.1,935.2 L1371.6,936.5 L1373.1,937.7 L1374.6,938.9 L1376.1,940.1 L1377.6,941.2 L1379.1,942.3 L1380.6,943.3 L1382.1,944.3 L1383.6,945.3 L1385.1,946.2 L1386.6,947.1 L1388.1,948.0 L1389.6,948.8 L1391.1,949.6 L1392.6,950.4 L1394.1,951.2 L1395.6,951.9 L1397.1,952.6 L1398.6,953.3 L1400.1,954.0 L1401.6,954.6 L1403.1,955.2 L1404.6,955.8 L1406.1,956.4 L1407.6,957.0 L1409.1,957.5 L1410.6,958.1 L1412.1,958.6 L1413.6,959.1 L1415.1,959.6 L1416.6,960.0 L1418.1,960.5 L1419.6,960.9 L1421.1,961.3 L1422.6,961.8 L1424.1,962.2 L1425.6,962.6 L1427.1,962.9 L1428.6,963.3 L1430.1,963.7 L1431.6,964.0 L1433.1,964.4 L1434.6,964.7 L1436.1,965.0 L1437.6,965.3 L1439.1,965.6 L1440.6,965.9 L1442.1,966.2 L1443.6,966.5 L1445.1,966.8 L1446.6,967.0 L1448.1,967.3 L1449.6,967.6 L1451.1,967.8 L1452.6,968.1 L1454.1,968.3 L1455.6,968.5 L1457.1,968.7 L1458.6,969.0 L1460.1,969.2 L1461.6,969.4 L1463.1,969.6 L1464.6,969.8 L1466.1,970.0 L1467.6,970.2 L1469.1,970.3 L1470.6,970.5 L1472.1,970.7 L1473.6,970.9 L1475.1,971.0 L1476.6,971.2 L1478.1,971.4 L1479.6,971.5 L1481.1,971.7 L1482.6,971.8 L1484.1,972.0 L1485.6,972.1 L1485.6,1021.0 Z" fill="#0000ff" fill-opacity="0.6"/>
<path d="M1080.5,974.8 L1082.0,974.6 L1083.5,974.4 L1085.0,974.2 L1086.5,974.0 L1088.0,973.8 L1089.5,973.6 L1091.0,973.4 L1092.5,973.2 L1094.0,973.0 L1095.5,972.8 L1097.0,972.5 L1098.5,972.3 L1100.0,972.1 L1101.5,971.8 L1103.0,971.6 L1104.5,971.3 L1106.0,971.1 L1107.5,970.8 L1109.0,970.5 L1110.5,970.3 L1112.0,970.0 L1113.5,969.7 L1115.0,969.4 L1116.5,969.1 L1118.0,968.8 L1119.5,968.5 L1121.0,968.1 L1122.5,967.8 L1124.0,967.5 L1125.5,967.1 L1127.0,966.7 L1128.5,966.4 L1130.0,966.0 L1131.5,965.6 L1133.0,965.2 L1134.5,964.8 L1136.0,964.4 L1137.5,963.9 L1139.0,963.5 L1140.5,963.0 L1142.0,962.5 L1143.5,962.1 L1145.0,961.6 L1146.5,961.0 L1148.0,960.5 L1149.5,960.0 L1151.0,959.4 L1152.5,958.8 L1154.0,958.2 L1155.5,957.6 L1157.0,957.0 L1158.5,956.3 L1160.0,955.6 L1161.5,954.9 L1163.0,954.2 L1164.5,953.5 L1166.0,952.7 L1167.5,951.9 L1169.0,951.1 L1170.5,950.2 L1172.0,949.3 L1173.5,948.4 L1175.0,947.5 L1176.5,946.5 L1178.0,945.5 L1179.5,944.5 L1181.0,943.4 L1182.5,942.2 L1184.0,941.1 L1185.5,939.9 L1187.0,938.6 L1188.5,937.3 L1190.0,936.0 L1191.5,934.5 L1193.0,933.1 L1194.5,931.6 L1196.0,930.0 L1197.5,928.3 L1199.0,926.6 L1200.5,924.9 L1202.0,923.0 L1203.5,921.1 L1205.0,919.1 L1206.5,917.0 L1208.0,914.8 L1209.5,912.5 L1211.0,910.1 L1212.5,907.7 L1214.0,905.1 L1215.5,902.4 L1217.0,899.6 L1218.5,896.6 L1220.0,893.6 L1221.5,890.4 L1223.0,887.1 L1224.5,883.6 L1226.0,880.0 L1227.5,876.2 L1229.0,872.2 L1230.5,868.1 L1232.0,863.9 L1233.5,859.4 L1235.0,854.8 L1236.5,850.0 L1238.0,845.0 L1239.5,839.8 L1241.0,834.4 L1242.5,828.9 L1244.0,823.2 L1245.5,817.3 L1247.0,811.2 L1248.5,805.0 L1250.0,798.7 L1251.5,792.2 L1253.0,785.7 L1254.5,779.1 L1256.0,772.5 L1257.5,765.9 L1259.0,759.3 L1260.5,752.8 L1262.0,746.5 L1263.5,740.4 L1265.0,734.5 L1266.5,729.0 L1268.0,723.9 L1269.5,719.2 L1271.0,715.0 L1272.5,711.4 L1274.0,708.4 L1275.5,706.1 L1277.0,704.4 L1278.5,703.5 L1280.0,703.3 L1281.5,703.9 L1283.0,705.2 L1284.6,707.2 L1286.1,709.8 L1287.6,713.1 L1289.1,717.0 L1290.6,721.4 L1292.1,726.3 L1293.6,731.7 L1295.1,737.3 L1296.6,743.3 L1298.1,749.5 L1299.6,755.9 L1301.1,762.4 L1302.6,769.0 L1304.1,775.6 L1305.6,782.2 L1307.1,788.7 L1308.6,795.2 L1310.1,801.6 L1311.6,807.8 L1313.1,813.9 L1314.6,819.8 L1316.1,825.6 L1317.6,831.2 L1319.1,836.6 L1320.6,841.9 L1322.1,846.9 L1323.6,851.8 L1325.1,856.5 L1326.6,861.0 L1328.1,865.3 L1329.6,869.5 L1331.1,873.5 L1332.6,877.3 L1334.1,881.0 L1335.6,884.5 L1337.1,887.9 L1338.6,891.1 L1340.1,894.2 L1341.6,897.2 L1343.1,900.0 L1344.6,902.7 L1346.1,905.3 L1347.6,907.8 L1349.1,910.2 L1350.6,912.5 L1352.1,914.7 L1353.6,916.8 L1355.1,918.9 L1356.6,920.8 L1358.1,922.7 L1359.6,924.5 L1361.1,926.2 L1362.6,927.8 L1364.1,929.4 L1365.6,930.9 L1367.1,932.4 L1368.6,933.8 L1370.1,935.2 L1371.6,936.5 L1373.1,937.7 L1374.6,938.9 L1376.1,940.1 L1377.6,941.2 L1379.1,942.3 L1380.6,943.3 L1382.1,944.3 L1383.6,945.3 L1385.1,946.2 L1386.6,947.1 L1388.1,948.0 L1389.6,948.8 L1391.1,949.6 L1392.6,950.4 L1394.1,951.2 L1395.6,951.9 L1397.1,952.6 L1398.6,953.3 L1400.1,954.0 L1401.6,954.6 L1403.1,955.2 L1404.6,955.8 L1406.1,956.4 L1407.6,957.0 L1409.1,957.5 L1410.6,958.1 L1412.1,958.6 L1413.6,959.1 L1415.1,959.6 L1416.6,960.0 L1418.1,960.5 L1419.6,960.9 L1421.1,961.3 L1422.6,961.8 L1424.1,962.2 L1425.6,962.6 L1427.1,962.9 L1428.6,963.3 L1430.1,963.7 L1431.6,964.0 L1433.1,964.4 L1434.6,964.7 L1436.1,965.0 L1437.6,965.3 L1439.1,965.6 L1440.6,965.9 L1442.1,966.2 L1443.6,966.5 L1445.1,966.8 L1446.6,967.0 L1448.1,967.3 L1449.6,967.6 L1451.1,967.8 L1452.6,968.1 L1454.1,968.3 L1455.6,968.5 L1457.1,968.7 L1458.6,969.0 L1460.1,969.2 L1461.6,969.4 L1463.1,969.6 L1464.6,969.8 L1466.1,970.0 L1467.6,970.2 L1469.1,970.3 L1470.6,970.5 L1472.1,970.7 L1473.6,970.9 L1475.1,971.0 L1476.6,971.2 L1478.1,971.4 L1479.6,971.5 L1481.1,971.7 L1482.6,971.8 L1484.1,972.0 L1485.6,972.1" fill="none" stroke="#2020ff" stroke-width="1.3"/>
<path d="M1080.5,972.0 C1091.8,969.2 1129.6,962.7 1148.2,955.0 C1166.8,947.3 1180.0,937.7 1192.3,926.0 C1204.5,914.3 1213.4,901.8 1221.7,885.0 C1230.0,868.2 1236.3,845.0 1242.2,825.0 C1248.1,805.0 1252.6,780.0 1256.9,765.0 C1261.2,750.0 1264.6,741.8 1268.0,735.0 C1271.4,728.2 1273.8,724.3 1277.5,724.0 C1281.2,723.7 1285.4,725.3 1290.0,733.0 C1294.6,740.7 1300.3,758.8 1305.0,770.0 C1309.7,781.2 1314.2,792.9 1318.0,800.0 C1321.8,807.1 1323.8,812.3 1327.5,812.8 C1331.2,813.3 1335.6,808.0 1340.0,803.0 C1344.4,798.0 1348.9,792.5 1353.9,782.8 C1358.9,773.1 1364.6,754.5 1370.0,745.0 C1375.4,735.5 1381.3,727.7 1386.3,725.5 C1391.3,723.3 1395.6,727.3 1400.0,732.0 C1404.4,736.7 1405.7,735.2 1412.7,753.5 C1419.7,771.8 1432.3,810.8 1442.1,841.6 C1451.9,872.5 1464.2,918.0 1471.5,938.6 C1478.8,959.2 1483.2,960.6 1485.6,965.0" fill="none" stroke="#000" stroke-width="1.3" stroke-dasharray="4,3"/>
<path d="M1080.0,960.2 L1082.8,963.5 L1084.9,961.9 L1087.9,961.0 L1089.9,965.0 L1092.3,964.3 L1095.3,965.1 L1098.4,968.5 L1101.0,968.0 L1103.4,971.4 L1105.1,962.6 L1107.4,962.0 L1110.3,967.7 L1113.0,958.6 L1114.8,968.7 L1116.9,959.9 L1118.9,959.0 L1120.8,947.9 L1122.9,949.4 L1124.6,950.3 L1127.0,943.4 L1129.0,946.4 L1130.8,948.9 L1133.6,941.3 L1136.1,940.4 L1137.9,940.0 L1140.0,941.1 L1142.0,939.1 L1144.0,935.2 L1146.3,933.3 L1148.5,929.0 L1150.7,932.4 L1152.4,929.0 L1155.2,930.9 L1157.1,929.4 L1159.5,926.4 L1161.9,921.6 L1164.5,929.6 L1166.5,915.2 L1168.2,918.9 L1170.0,912.0 L1172.3,910.7 L1174.6,909.0 L1177.6,908.5 L1180.6,904.3 L1182.9,902.2 L1185.7,897.1 L1187.7,896.3 L1190.4,887.0 L1193.0,879.5 L1195.7,878.3 L1198.0,861.6 L1200.9,863.4 L1203.6,852.6 L1206.2,851.6 L1208.7,862.5 L1211.5,865.9 L1213.5,865.8 L1216.1,854.0 L1218.0,845.8 L1221.1,842.4 L1223.8,831.1 L1226.4,827.5 L1228.0,818.1 L1231.1,804.8 L1233.9,810.4 L1235.8,802.6 L1238.6,794.8 L1241.4,786.8 L1243.6,781.8 L1246.5,771.7 L1249.5,757.5 L1252.3,760.2 L1254.0,756.3 L1256.9,749.8 L1258.8,747.0 L1260.9,743.5 L1263.3,746.0 L1265.2,741.5 L1267.1,737.8 L1268.9,732.1 L1271.8,730.8 L1274.2,719.6 L1276.2,721.8 L1278.0,721.9 L1280.2,724.4 L1282.2,730.1 L1283.9,748.6 L1286.2,748.1 L1288.9,747.4 L1290.9,738.6 L1294.0,729.7 L1296.2,732.6 L1298.8,728.6 L1301.9,718.4 L1303.6,731.0 L1305.6,731.6 L1308.5,732.8 L1310.7,739.8 L1313.3,734.4 L1315.2,734.2 L1317.5,736.6 L1320.4,736.0 L1323.4,766.5 L1325.9,769.4 L1329.0,780.3 L1331.8,775.1 L1333.6,782.1 L1336.4,784.3 L1338.2,784.0 L1340.1,773.2 L1342.0,776.8 L1344.3,782.4 L1346.2,791.2 L1348.6,806.0 L1351.1,786.3 L1352.9,793.3 L1355.9,772.0 L1358.3,774.7 L1361.2,779.6 L1364.3,768.6 L1366.4,770.0 L1368.9,761.3 L1371.2,756.9 L1374.2,748.8 L1376.3,744.3 L1379.2,728.0 L1382.2,730.1 L1385.2,721.2 L1387.5,716.5 L1390.4,717.6 L1393.3,721.8 L1396.3,715.9 L1398.1,719.7 L1400.2,718.1 L1403.1,727.9 L1405.7,733.1 L1407.8,738.9 L1410.5,745.6 L1412.3,754.6 L1415.1,763.7 L1417.8,774.6 L1419.6,781.0 L1422.6,803.2 L1424.9,817.3 L1426.9,838.0 L1429.0,851.4 L1431.4,863.0 L1434.2,873.5 L1437.3,884.7 L1439.1,891.0" fill="none" stroke="#333" stroke-width="1.2" stroke-linejoin="round"/>
<rect x="1079.0" y="642.6" width="408.0" height="379.9" fill="none" stroke="#000" stroke-width="2.8"/>
<text transform="translate(1082.40,674.10) scale(1.0881,1.0423)" font-size="30.00" fill="#000" text-anchor="start" font-family="Liberation Sans, Arial, Helvetica, sans-serif" font-weight="bold" >5W-BiVO</text>
<text transform="translate(1221.41,681.19) scale(1.0733,1.2456)" font-size="30.00" fill="#000" text-anchor="start" font-family="Liberation Sans, Arial, Helvetica, sans-serif" font-weight="bold" >4@ 200°C</text>
<text transform="translate(1385.14,689.11) scale(1.0568,0.9968)" font-size="18.50" fill="#ff0000" text-anchor="start" font-family="Liberation Sans, Arial, Helvetica, sans-serif" font-weight="bold" >O Vacancy</text>
<text transform="translate(1148.32,728.65) scale(1.0405,0.9256)" font-size="19.30" fill="#0000ff" text-anchor="start" font-family="Liberation Sans, Arial, Helvetica, sans-serif" font-weight="bold" >Lattice&#160; O</text>
<text transform="translate(1094.84,816.64) scale(1.1163,1.0619)" font-size="28.70" fill="#000" text-anchor="start" font-family="Liberation Sans, Arial, Helvetica, sans-serif" font-weight="bold" >O1s</text>
<line x1="1167.3" y1="732.9" x2="1213" y2="830" stroke="#0000ff" stroke-width="1.6"/>
<polygon points="1215.8,835.8 1206,823 1214,820" fill="#0000ff"/>
<line x1="1439.2" y1="699.1" x2="1399" y2="817" stroke="#ff0000" stroke-width="1.6"/>
<text transform="translate(1124.57,1051.23) scale(1.0175,1.1398)" font-size="24.00" fill="#000" text-anchor="middle" font-family="Liberation Sans, Arial, Helvetica, sans-serif" font-weight="bold" >536</text>
<text transform="translate(1214.77,1051.23) scale(1.0175,1.1398)" font-size="24.00" fill="#000" text-anchor="middle" font-family="Liberation Sans, Arial, Helvetica, sans-serif" font-weight="bold" >534</text>
<text transform="translate(1306.17,1051.23) scale(1.0175,1.1398)" font-size="24.00" fill="#000" text-anchor="middle" font-family="Liberation Sans, Arial, Helvetica, sans-serif" font-weight="bold" >532</text>
<text transform="translate(1396.97,1051.23) scale(1.0175,1.1398)" font-size="24.00" fill="#000" text-anchor="middle" font-family="Liberation Sans, Arial, Helvetica, sans-serif" font-weight="bold" >530</text>
<text transform="translate(1487.57,1051.23) scale(1.0175,1.1398)" font-size="24.00" fill="#000" text-anchor="middle" font-family="Liberation Sans, Arial, Helvetica, sans-serif" font-weight="bold" >528</text>
<text transform="translate(1141.05,1083.60) scale(1.0705,1.0400)" font-size="30.00" fill="#000" text-anchor="start" font-family="Liberation Sans, Arial, Helvetica, sans-serif" font-weight="bold" >Binding Energy eV</text>
<rect x="303.0" y="59.4" width="1306.0" height="1051.4" fill="none" stroke="#000" stroke-width="7.6"/>
<path d="M306.8,250.5 H323.6 M306.8,441.7 H323.6 M306.8,632.9 H323.6 M306.8,824.1 H323.6 M306.8,1015.3 H323.6 M306.8,154.9 H313.5 M306.8,346.1 H313.5 M306.8,537.3 H313.5 M306.8,728.5 H313.5 M306.8,919.7 H313.5 M368.4,1107.0 V1090.4 M499.0,1107.0 V1090.4 M629.7,1107.0 V1090.4 M760.3,1107.0 V1090.4 M891.0,1107.0 V1090.4 M1021.6,1107.0 V1090.4 M1152.2,1107.0 V1090.4 M1282.9,1107.0 V1090.4 M1413.5,1107.0 V1090.4 M1544.2,1107.0 V1090.4 M433.7,1107.0 V1100.8 M564.4,1107.0 V1100.8 M695.0,1107.0 V1100.8 M825.6,1107.0 V1100.8 M956.3,1107.0 V1100.8 M1086.9,1107.0 V1100.8 M1217.6,1107.0 V1100.8 M1348.2,1107.0 V1100.8 M1478.8,1107.0 V1100.8" stroke="#000" stroke-width="7.3" fill="none"/>
<text transform="translate(280.19,78.24) scale(0.9798,1.0772)" font-size="60.00" fill="#000" text-anchor="end" font-family="Liberation Sans, Arial, Helvetica, sans-serif" font-weight="bold" >4000</text>
<text transform="translate(280.19,269.44) scale(0.9798,1.0772)" font-size="60.00" fill="#000" text-anchor="end" font-family="Liberation Sans, Arial, Helvetica, sans-serif" font-weight="bold" >3600</text>
<text transform="translate(280.19,460.64) scale(0.9798,1.0772)" font-size="60.00" fill="#000" text-anchor="end" font-family="Liberation Sans, Arial, Helvetica, sans-serif" font-weight="bold" >3200</text>
<text transform="translate(280.19,651.84) scale(0.9798,1.0772)" font-size="60.00" fill="#000" text-anchor="end" font-family="Liberation Sans, Arial, Helvetica, sans-serif" font-weight="bold" >2800</text>
<text transform="translate(280.19,843.04) scale(0.9798,1.0772)" font-size="60.00" fill="#000" text-anchor="end" font-family="Liberation Sans, Arial, Helvetica, sans-serif" font-weight="bold" >2400</text>
<text transform="translate(280.19,1034.24) scale(0.9798,1.0772)" font-size="60.00" fill="#000" text-anchor="end" font-family="Liberation Sans, Arial, Helvetica, sans-serif" font-weight="bold" >2000</text>
<text transform="translate(368.17,1189.61) scale(0.9612,1.0140)" font-size="70.00" fill="#000" text-anchor="middle" font-family="Liberation Sans, Arial, Helvetica, sans-serif" font-weight="bold" >32</text>
<text transform="translate(498.81,1189.61) scale(0.9612,1.0140)" font-size="70.00" fill="#000" text-anchor="middle" font-family="Liberation Sans, Arial, Helvetica, sans-serif" font-weight="bold" >34</text>
<text transform="translate(629.45,1189.61) scale(0.9612,1.0140)" font-size="70.00" fill="#000" text-anchor="middle" font-family="Liberation Sans, Arial, Helvetica, sans-serif" font-weight="bold" >36</text>
<text transform="translate(760.09,1189.61) scale(0.9612,1.0140)" font-size="70.00" fill="#000" text-anchor="middle" font-family="Liberation Sans, Arial, Helvetica, sans-serif" font-weight="bold" >38</text>
<text transform="translate(890.73,1189.61) scale(0.9612,1.0140)" font-size="70.00" fill="#000" text-anchor="middle" font-family="Liberation Sans, Arial, Helvetica, sans-serif" font-weight="bold" >40</text>
<text transform="translate(1021.37,1189.61) scale(0.9612,1.0140)" font-size="70.00" fill="#000" text-anchor="middle" font-family="Liberation Sans, Arial, Helvetica, sans-serif" font-weight="bold" >42</text>
<text transform="translate(1152.01,1189.61) scale(0.9612,1.0140)" font-size="70.00" fill="#000" text-anchor="middle" font-family="Liberation Sans, Arial, Helvetica, sans-serif" font-weight="bold" >44</text>
<text transform="translate(1282.65,1189.61) scale(0.9612,1.0140)" font-size="70.00" fill="#000" text-anchor="middle" font-family="Liberation Sans, Arial, Helvetica, sans-serif" font-weight="bold" >46</text>
<text transform="translate(1413.29,1189.61) scale(0.9612,1.0140)" font-size="70.00" fill="#000" text-anchor="middle" font-family="Liberation Sans, Arial, Helvetica, sans-serif" font-weight="bold" >48</text>
<text transform="translate(1543.93,1189.61) scale(0.9612,1.0140)" font-size="70.00" fill="#000" text-anchor="middle" font-family="Liberation Sans, Arial, Helvetica, sans-serif" font-weight="bold" >50</text>
<text transform="translate(333.32,1286.45) scale(0.9801,0.9900)" font-size="70.00" fill="#000" text-anchor="start" font-family="Liberation Sans, Arial, Helvetica, sans-serif" font-weight="bold" >% Oxygen vacancies&#160; in XPS Spectra</text>
<text transform="translate(312.98,182.74) scale(1.0042,1.0004)" font-size="118.00" fill="#000" text-anchor="start" font-family="Liberation Sans, Arial, Helvetica, sans-serif" font-weight="bold" >(A)</text>
<text transform="translate(119.09,775.97) rotate(-90) scale(0.9937,1.0402)" font-size="90.00" fill="#000" font-family="Liberation Sans, Arial, Helvetica, sans-serif" font-weight="bold">O<tspan style="font-size:0.6067em" dy="33.09">2</tspan><tspan dy="-33.09"> (μmol/g)</tspan></text>
<text transform="translate(118.12,2121.14) rotate(-90) scale(0.9788,1.0216)" font-size="90.00" fill="#000" font-family="Liberation Sans, Arial, Helvetica, sans-serif" font-weight="bold">O<tspan style="font-size:0.5972em" dy="15.03">2</tspan><tspan dy="-15.03"> (μmol/g)</tspan></text>
<ellipse cx="824.5" cy="621.7" rx="35.5" ry="33.7" fill="#0000ff"/>
<line x1="853.8" y1="655.4" x2="962" y2="776" stroke="#0000ff" stroke-width="9"/>
<polygon points="992.9,808.8 944.1,777.8 970.3,756" fill="#0000ff" stroke="#0000ff" stroke-width="4" stroke-linejoin="round"/>
<text transform="translate(867.20,616.19) scale(0.9866,1.0023)" font-size="55.70" fill="#000" text-anchor="start" font-family="Liberation Sans, Arial, Helvetica, sans-serif" font-weight="bold" >5W-BiVO<tspan style="font-size:0.6626em" dy="13.04">4</tspan><tspan dy="-13.04">@</tspan><tspan fill="#0000ff">200°C</tspan></text>
<ellipse cx="437.1" cy="1030.5" rx="34.5" ry="33" fill="#00ff00" stroke="#000" stroke-width="1.5"/>
<line x1="444.8" y1="976.4" x2="472" y2="910" stroke="#00ff00" stroke-width="8"/>
<polygon points="493,858.5 456,906 486.4,916.7" fill="#00ff00" stroke="#00ff00" stroke-width="4" stroke-linejoin="round"/>
<text transform="translate(494.99,1016.08) scale(0.9875,0.9900)" font-size="55.70" fill="#000" text-anchor="start" font-family="Liberation Sans, Arial, Helvetica, sans-serif" font-weight="bold" >5W-BiVO<tspan style="font-size:0.6938em" dy="14.77">4</tspan><tspan dy="-14.77">@</tspan><tspan fill="#00ff00">360°C</tspan></text>
<line x1="1446.8" y1="341.4" x2="1410" y2="339" stroke="#ff0000" stroke-width="9.6"/>
<polygon points="1355.5,335.3 1413.8,323 1411.9,355.6" fill="#ff0000" stroke="#ff0000" stroke-width="5" stroke-linejoin="round"/>
<ellipse cx="1478.5" cy="347.5" rx="28.8" ry="28.8" fill="#ff0000"/>
<circle cx="1470.9" cy="339.6" r="14.4" fill="#ff6a6a"/>
<circle cx="1470.9" cy="339.6" r="9.5" fill="#ffb4b4"/>
<circle cx="1470.9" cy="339.6" r="4.3" fill="#fffaf6"/>
<text transform="translate(1349.09,294.86) scale(0.9862,0.9934)" font-size="55.70" fill="#ff0000" text-anchor="start" font-family="Liberation Sans, Arial, Helvetica, sans-serif" font-weight="bold" >5W-BiVO<tspan style="font-size:0.7121em" dy="14.53">4</tspan></text>
<rect x="326.0" y="1391.5" width="1368.0" height="1038.1" fill="none" stroke="#000" stroke-width="7.6"/>
<path d="M329.8,1551.3 H347.0 M329.8,1710.8 H347.0 M329.8,1870.3 H347.0 M329.8,2029.8 H347.0 M329.8,2189.3 H347.0 M329.8,2348.8 H347.0 M329.8,1471.5 H336.5 M329.8,1631.0 H336.5 M329.8,1790.5 H336.5 M329.8,1950.0 H336.5 M329.8,2109.6 H336.5 M329.8,2269.1 H336.5 M443.1,2425.8 V2409.3 M638.7,2425.8 V2409.3 M834.3,2425.8 V2409.3 M1029.9,2425.8 V2409.3 M1225.5,2425.8 V2409.3 M1421.1,2425.8 V2409.3 M1616.7,2425.8 V2409.3 M345.3,2425.8 V2419.6 M540.9,2425.8 V2419.6 M736.5,2425.8 V2419.6 M932.1,2425.8 V2419.6 M1127.7,2425.8 V2419.6 M1323.3,2425.8 V2419.6 M1518.9,2425.8 V2419.6" stroke="#000" stroke-width="7.3" fill="none"/>
<text transform="translate(302.23,1413.01) scale(1.0438,1.0377)" font-size="69.00" fill="#000" text-anchor="end" font-family="Liberation Sans, Arial, Helvetica, sans-serif" font-weight="bold" >3600</text>
<text transform="translate(302.23,1572.83) scale(1.0438,1.0377)" font-size="69.00" fill="#000" text-anchor="end" font-family="Liberation Sans, Arial, Helvetica, sans-serif" font-weight="bold" >3200</text>
<text transform="translate(302.23,1732.65) scale(1.0438,1.0377)" font-size="69.00" fill="#000" text-anchor="end" font-family="Liberation Sans, Arial, Helvetica, sans-serif" font-weight="bold" >2800</text>
<text transform="translate(302.23,1892.47) scale(1.0438,1.0377)" font-size="69.00" fill="#000" text-anchor="end" font-family="Liberation Sans, Arial, Helvetica, sans-serif" font-weight="bold" >2400</text>
<text transform="translate(302.23,2052.29) scale(1.0438,1.0377)" font-size="69.00" fill="#000" text-anchor="end" font-family="Liberation Sans, Arial, Helvetica, sans-serif" font-weight="bold" >2000</text>
<text transform="translate(302.23,2212.11) scale(1.0438,1.0377)" font-size="69.00" fill="#000" text-anchor="end" font-family="Liberation Sans, Arial, Helvetica, sans-serif" font-weight="bold" >1600</text>
<text transform="translate(302.23,2371.93) scale(1.0438,1.0377)" font-size="69.00" fill="#000" text-anchor="end" font-family="Liberation Sans, Arial, Helvetica, sans-serif" font-weight="bold" >1200</text>
<text transform="translate(442.38,2506.47) scale(1.0781,1.0332)" font-size="68.00" fill="#000" text-anchor="middle" font-family="Liberation Sans, Arial, Helvetica, sans-serif" font-weight="bold" >20</text>
<text transform="translate(637.98,2506.47) scale(1.0781,1.0332)" font-size="68.00" fill="#000" text-anchor="middle" font-family="Liberation Sans, Arial, Helvetica, sans-serif" font-weight="bold" >25</text>
<text transform="translate(833.58,2506.47) scale(1.0781,1.0332)" font-size="68.00" fill="#000" text-anchor="middle" font-family="Liberation Sans, Arial, Helvetica, sans-serif" font-weight="bold" >30</text>
<text transform="translate(1029.18,2506.47) scale(1.0781,1.0332)" font-size="68.00" fill="#000" text-anchor="middle" font-family="Liberation Sans, Arial, Helvetica, sans-serif" font-weight="bold" >35</text>
<text transform="translate(1224.78,2506.47) scale(1.0781,1.0332)" font-size="68.00" fill="#000" text-anchor="middle" font-family="Liberation Sans, Arial, Helvetica, sans-serif" font-weight="bold" >40</text>
<text transform="translate(1420.38,2506.47) scale(1.0781,1.0332)" font-size="68.00" fill="#000" text-anchor="middle" font-family="Liberation Sans, Arial, Helvetica, sans-serif" font-weight="bold" >45</text>
<text transform="translate(1615.98,2506.47) scale(1.0781,1.0332)" font-size="68.00" fill="#000" text-anchor="middle" font-family="Liberation Sans, Arial, Helvetica, sans-serif" font-weight="bold" >50</text>
<text transform="translate(305.29,2599.77) scale(1.1042,1.0401)" font-size="75.00" fill="#000" text-anchor="start" font-family="Liberation Sans, Arial, Helvetica, sans-serif" font-weight="bold" >% Oxygen vacancy in XPS Spectra</text>
<text transform="translate(350.98,1516.27) scale(1.0507,1.0027)" font-size="118.00" fill="#000" text-anchor="start" font-family="Liberation Sans, Arial, Helvetica, sans-serif" font-weight="bold" >(B)</text>
<path d="M433.5,2306.7 C441.2,2295.6 464.3,2261.7 479.7,2240.3 C495.1,2218.9 510.5,2198.3 525.9,2178.4 C541.3,2158.5 556.7,2139.3 572.1,2120.7 C587.5,2102.1 602.9,2084.2 618.3,2066.9 C633.7,2049.6 649.1,2032.8 664.5,2016.6 C679.9,2000.4 695.3,1984.7 710.7,1969.5 C726.1,1954.3 741.5,1939.7 756.9,1925.4 C772.3,1911.2 787.7,1897.4 803.1,1884.0 C818.5,1870.6 833.9,1857.6 849.3,1845.0 C864.7,1832.4 880.1,1820.1 895.5,1808.2 C910.9,1796.3 926.3,1784.7 941.7,1773.4 C957.1,1762.1 972.6,1751.3 988.0,1740.6 C1003.4,1729.9 1018.8,1719.6 1034.2,1709.4 C1049.6,1699.2 1065.0,1689.3 1080.4,1679.7 C1095.8,1670.1 1111.2,1660.8 1126.6,1651.6 C1142.0,1642.4 1157.4,1633.5 1172.8,1624.8 C1188.2,1616.1 1203.6,1607.6 1219.0,1599.3 C1234.4,1591.0 1249.8,1583.0 1265.2,1575.1 C1280.6,1567.2 1296.0,1559.5 1311.4,1552.1 C1326.8,1544.6 1342.2,1537.4 1357.6,1530.4 C1373.0,1523.4 1388.4,1516.5 1403.8,1509.9 C1419.2,1503.3 1434.6,1496.9 1450.0,1490.7 C1465.4,1484.5 1488.5,1475.9 1496.2,1472.9" fill="none" stroke="#008000" stroke-width="2" stroke-dasharray="9,6"/>
<polygon points="1491.9,1448.8 1510.4,1496.1 1578,1446" fill="#008000"/>
<line x1="1535.3" y1="1490.7" x2="1217" y2="1716" stroke="#ff0000" stroke-width="4" stroke-dasharray="5,17.5"/>
<line x1="1215" y1="1728.2" x2="1018" y2="1940" stroke="#ff0000" stroke-width="4" stroke-dasharray="5,17.5"/>
<polygon points="995.6,1929.5 1042.1,1956.4 974.1,2008.2" fill="#ff0000"/>
<path d="M535.5,2135.9 C542.5,2127.3 563.5,2101.0 577.5,2084.1 C591.5,2067.2 605.5,2050.7 619.5,2034.5 C633.5,2018.3 647.5,2002.6 661.5,1987.2 C675.5,1971.8 689.5,1956.8 703.5,1942.2 C717.5,1927.6 731.5,1913.3 745.5,1899.5 C759.5,1885.7 773.4,1872.2 787.4,1859.1 C801.4,1846.0 815.4,1833.3 829.4,1821.0 C843.4,1808.7 857.4,1796.8 871.4,1785.2 C885.4,1773.7 899.4,1762.5 913.4,1751.7 C927.4,1740.9 941.4,1730.4 955.4,1720.4 C969.4,1710.4 990.4,1696.3 997.4,1691.5" fill="none" stroke="#edc56a" stroke-width="11"/>
<polygon points="1040.3,1654 984.9,1675.5 1006.3,1699.4" fill="#edc56a" stroke="#edc56a" stroke-width="6" stroke-linejoin="round"/>
<path d="M1635.1,1722.9 C1628.4,1726.8 1608.5,1738.0 1595.2,1746.1 C1581.9,1754.2 1568.7,1762.7 1555.4,1771.5 C1542.1,1780.3 1528.8,1789.5 1515.5,1799.1 C1502.2,1808.6 1488.9,1818.5 1475.6,1828.8 C1462.3,1839.1 1449.0,1849.7 1435.7,1860.7 C1422.4,1871.7 1409.2,1883.1 1395.9,1894.8 C1382.6,1906.5 1369.3,1918.6 1356.0,1931.1 C1342.7,1943.6 1329.4,1956.4 1316.1,1969.6 C1302.8,1982.8 1289.5,1996.3 1276.2,2010.2 C1262.9,2024.1 1249.7,2038.4 1236.4,2053.0 C1223.1,2067.6 1203.2,2090.5 1196.5,2098.0" fill="none" stroke="#f87272" stroke-width="8.5"/>
<polygon points="1156.6,2145.2 1181.5,2093.7 1208.1,2113.7" fill="#f87272" stroke="#f87272" stroke-width="6" stroke-linejoin="round"/>
<ellipse cx="443.3" cy="2330.1" rx="29.7" ry="28.2" fill="#000000"/>
<circle cx="434.7" cy="2321.9" r="14.8" fill="#555555"/>
<circle cx="434.7" cy="2321.9" r="9.8" fill="#9a9a9a"/>
<circle cx="434.7" cy="2321.9" r="4.5" fill="#ffffff"/>
<ellipse cx="1107.6" cy="1623.4" rx="30.5" ry="28.7" fill="#8000ff"/>
<circle cx="1099.6" cy="1615.4" r="15.2" fill="#b070ff"/>
<circle cx="1099.6" cy="1615.4" r="10.1" fill="#d8b4ff"/>
<circle cx="1099.6" cy="1615.4" r="4.6" fill="#ffffff"/>
<ellipse cx="1576.5" cy="1472.2" rx="29.5" ry="28.0" fill="#008000"/>
<circle cx="1569.0" cy="1464.1" r="14.8" fill="#5ca85c"/>
<circle cx="1569.0" cy="1464.1" r="9.7" fill="#bfe0bf"/>
<circle cx="1569.0" cy="1464.1" r="4.4" fill="#ffffff"/>
<ellipse cx="1185.7" cy="1702.6" rx="26.3" ry="24.5" fill="none" stroke="#ff0000" stroke-width="7.5"/>
<ellipse cx="950.9" cy="2039.5" rx="25" ry="24.1" fill="none" stroke="#ff0000" stroke-width="7.3"/>
<text transform="translate(483.71,2326.85) scale(1.1220,1.0685)" font-size="51.00" fill="#000" text-anchor="start" font-family="Liberation Sans, Arial, Helvetica, sans-serif" font-weight="bold" >BiVO<tspan style="font-size:0.6731em" dy="12.52">4</tspan></text>
<text transform="translate(855.50,1572.64) scale(1.0393,1.0113)" font-size="55.00" fill="#800080" text-anchor="start" font-family="Liberation Sans, Arial, Helvetica, sans-serif" font-weight="bold" >5Zr-BiVO<tspan style="font-size:0.6881em" dy="12.50">4</tspan></text>
<text transform="translate(1211.15,1451.59) scale(1.1049,1.0419)" font-size="52.00" fill="#008000" text-anchor="start" font-family="Liberation Sans, Arial, Helvetica, sans-serif" font-weight="bold" >5W-BiVO<tspan style="font-size:0.6965em" dy="11.76">4</tspan></text>
<text transform="translate(1317.73,1694.92) scale(1.1033,1.0704)" font-size="52.50" fill="#ff0000" text-anchor="start" font-family="Liberation Sans, Arial, Helvetica, sans-serif" font-weight="bold" >5W-BiVO<tspan style="font-size:0.6575em" dy="13.12">4</tspan></text>
<text transform="translate(1316.42,1783.64) scale(1.0539,1.1087)" font-size="54.70" fill="#ff0000" text-anchor="start" font-family="Liberation Sans, Arial, Helvetica, sans-serif" font-weight="bold" >@<tspan fill="#0000ff">200°C</tspan></text>
<text transform="translate(854.15,2143.35) scale(1.0671,1.0265)" font-size="54.00" fill="#ff0000" text-anchor="start" font-family="Liberation Sans, Arial, Helvetica, sans-serif" font-weight="bold" >5W-BiVO<tspan style="font-size:0.6857em" dy="13.98">4</tspan></text>
<text transform="translate(852.54,2231.21) scale(1.0495,1.1234)" font-size="54.70" fill="#ff0000" text-anchor="start" font-family="Liberation Sans, Arial, Helvetica, sans-serif" font-weight="bold" >@<tspan fill="#00ff00">360°C</tspan></text>
<text transform="translate(459.6,2130.9) rotate(-44)" font-size="60.9" font-style="italic" fill="#800000" font-family="Liberation Sans, Arial, Helvetica, sans-serif" font-weight="bold">Increase of Vo&#160; by doping</text>
<text transform="translate(1225.9,2167.4) rotate(-45.4)" font-size="60.7" font-style="italic" fill="#ff0000" font-family="Liberation Sans, Arial, Helvetica, sans-serif" font-weight="bold">Decrease of Vo</text>
<text transform="translate(1307.1,2189) rotate(-43)" font-size="56.8" font-style="italic" fill="#ff0000" font-family="Liberation Sans, Arial, Helvetica, sans-serif" font-weight="bold">via oxidation</text>
</svg></body></html>
